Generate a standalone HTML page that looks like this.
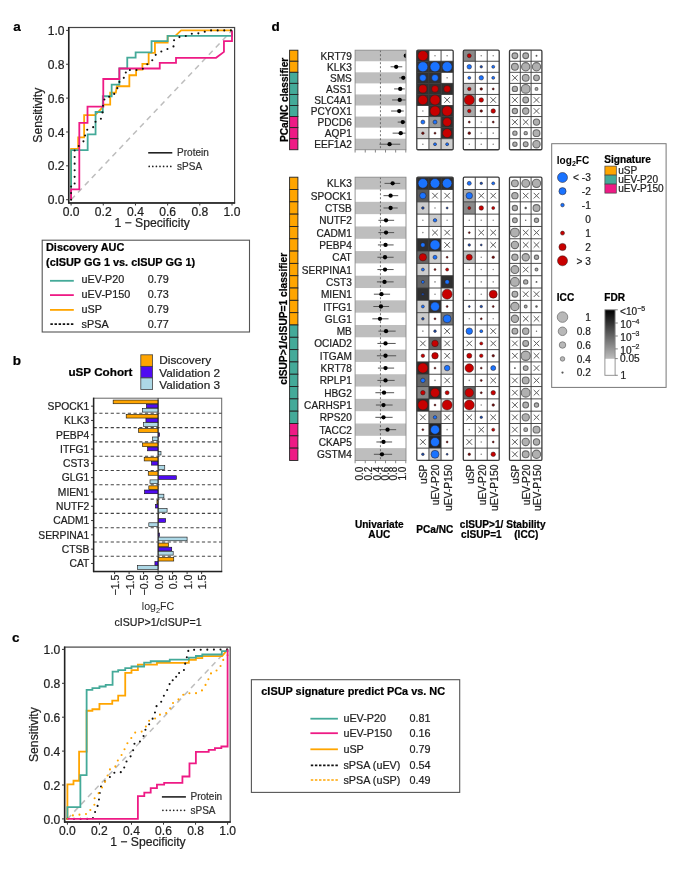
<!DOCTYPE html>
<html><head><meta charset="utf-8"><title>Figure</title><style>html,body{margin:0;padding:0;background:#fff;}svg{display:block;will-change:transform;filter:blur(0.3px);}</style></head><body>
<svg width="673" height="869" viewBox="0 0 673 869" font-family='"Liberation Sans", Arial, sans-serif'>
<rect x="0" y="0" width="673" height="869" fill="#fff" stroke="none" stroke-width="1"/>
<text x="13.3" y="30.7" font-size="13.5" font-weight="bold" fill="#000" stroke="#000" stroke-width="0.22">a</text>
<rect x="68.7" y="27.5" width="165.9" height="175.4" fill="none" stroke="#444" stroke-width="1.2"/>
<line x1="71.1" y1="199.7" x2="232" y2="30.4" stroke="#bdbdbd" stroke-width="1.5" stroke-dasharray="5.5 4.5"/>
<polyline points="71.1,199.7 71.1,148.91 78.18,148.91 78.18,137.4 84.13,137.4 84.13,115.05 95.07,115.05 103.28,106.58 103.28,104.55 110.2,104.55 110.2,92.53 115.83,92.53 116.8,86.27 129.35,86.27 129.35,75.26 136.1,75.26 136.1,69.51 142.38,69.51 142.38,63.92 148.65,63.92 148.65,52.92 154.93,52.92 154.93,42.59 167.64,42.59 167.64,35.82 175.36,35.82 181.16,30.4 232,30.4" fill="none" stroke="#FFA500" stroke-width="1.8" stroke-linejoin="miter"/>
<polyline points="71.1,199.7 71.1,150.1 87.67,150.1 87.67,134.35 95.56,134.35 95.56,112 102.8,112 102.8,96.26 111.65,96.26 111.65,84.58 119.37,84.58 119.37,68.49 127.25,68.49 127.25,57.66 135.62,57.66 135.62,52.41 151.55,52.41 151.55,41.07 167.64,41.07 167.64,35.82 232,35.82 232,30.4" fill="none" stroke="#44AA99" stroke-width="1.8" stroke-linejoin="miter"/>
<polyline points="71.1,199.7 71.1,189.37 79.31,189.37 79.31,122.84 87.51,122.84 87.51,106.58 103.28,106.58 103.28,78.99 119.37,78.99 119.37,68.49 159.76,68.49 159.76,62.91 176.01,62.91 176.01,57.83 216.07,57.83 223.95,51.9 223.95,41.07 232,41.07 232,30.4" fill="none" stroke="#EE1A85" stroke-width="1.8" stroke-linejoin="miter"/>
<polyline points="71.1,199.7 71.1,186.16 74.64,186.16 74.64,148.91 78.18,146.54 81.72,142.98 85.1,139.77 85.1,131.98 88.32,128.59 94.11,126.9 95.07,121.82 100.38,120.13 102.31,115.05 103.28,102.35 105.37,96.77 112.29,96.77 115.83,91.52 118.4,85.76 120.01,79.5 125.81,76.96 125.81,70.02 139.32,70.02 144.95,67.98 148.65,62.23 153.32,59.69 155.89,54.44 161.69,51.39 168.28,48.68 174.08,46.14 174.08,39.71 177.94,37.17 184.37,36.83 189.52,33.79 195.96,33.79 202.56,32.6 208.35,30.4 232,30.4" fill="none" stroke="#111" stroke-width="2.1" stroke-linejoin="miter" stroke-dasharray="0 6.6" stroke-linecap="round"/>
<line x1="68.7" y1="27" x2="68.7" y2="203.4" stroke="#222" stroke-width="1.5"/>
<line x1="68.2" y1="202.9" x2="235.1" y2="202.9" stroke="#222" stroke-width="1.5"/>
<line x1="66.1" y1="199.7" x2="68.7" y2="199.7" stroke="#333" stroke-width="1"/>
<text x="64.6" y="204.3" font-size="12.1" text-anchor="end" fill="#1e1e1e" stroke="#1e1e1e" stroke-width="0.22">0.0</text>
<line x1="71.1" y1="202.9" x2="71.1" y2="205.5" stroke="#333" stroke-width="1"/>
<text x="71.1" y="215.7" font-size="12.1" text-anchor="middle" fill="#1e1e1e" stroke="#1e1e1e" stroke-width="0.22">0.0</text>
<line x1="66.1" y1="165.84" x2="68.7" y2="165.84" stroke="#333" stroke-width="1"/>
<text x="64.6" y="170.44" font-size="12.1" text-anchor="end" fill="#1e1e1e" stroke="#1e1e1e" stroke-width="0.22">0.2</text>
<line x1="103.28" y1="202.9" x2="103.28" y2="205.5" stroke="#333" stroke-width="1"/>
<text x="103.28" y="215.7" font-size="12.1" text-anchor="middle" fill="#1e1e1e" stroke="#1e1e1e" stroke-width="0.22">0.2</text>
<line x1="66.1" y1="131.98" x2="68.7" y2="131.98" stroke="#333" stroke-width="1"/>
<text x="64.6" y="136.58" font-size="12.1" text-anchor="end" fill="#1e1e1e" stroke="#1e1e1e" stroke-width="0.22">0.4</text>
<line x1="135.46" y1="202.9" x2="135.46" y2="205.5" stroke="#333" stroke-width="1"/>
<text x="135.46" y="215.7" font-size="12.1" text-anchor="middle" fill="#1e1e1e" stroke="#1e1e1e" stroke-width="0.22">0.4</text>
<line x1="66.1" y1="98.12" x2="68.7" y2="98.12" stroke="#333" stroke-width="1"/>
<text x="64.6" y="102.72" font-size="12.1" text-anchor="end" fill="#1e1e1e" stroke="#1e1e1e" stroke-width="0.22">0.6</text>
<line x1="167.64" y1="202.9" x2="167.64" y2="205.5" stroke="#333" stroke-width="1"/>
<text x="167.64" y="215.7" font-size="12.1" text-anchor="middle" fill="#1e1e1e" stroke="#1e1e1e" stroke-width="0.22">0.6</text>
<line x1="66.1" y1="64.26" x2="68.7" y2="64.26" stroke="#333" stroke-width="1"/>
<text x="64.6" y="68.86" font-size="12.1" text-anchor="end" fill="#1e1e1e" stroke="#1e1e1e" stroke-width="0.22">0.8</text>
<line x1="199.82" y1="202.9" x2="199.82" y2="205.5" stroke="#333" stroke-width="1"/>
<text x="199.82" y="215.7" font-size="12.1" text-anchor="middle" fill="#1e1e1e" stroke="#1e1e1e" stroke-width="0.22">0.8</text>
<line x1="66.1" y1="30.4" x2="68.7" y2="30.4" stroke="#333" stroke-width="1"/>
<text x="64.6" y="35" font-size="12.1" text-anchor="end" fill="#1e1e1e" stroke="#1e1e1e" stroke-width="0.22">1.0</text>
<line x1="232" y1="202.9" x2="232" y2="205.5" stroke="#333" stroke-width="1"/>
<text x="232" y="215.7" font-size="12.1" text-anchor="middle" fill="#1e1e1e" stroke="#1e1e1e" stroke-width="0.22">1.0</text>
<text x="152.15" y="227" font-size="12.2" text-anchor="middle" fill="#1e1e1e" stroke="#1e1e1e" stroke-width="0.22">1 − Specificity</text>
<text transform="translate(42.2 115.2) rotate(-90)" font-size="12.2" text-anchor="middle" fill="#1e1e1e" stroke="#1e1e1e" stroke-width="0.22">Sensitivity</text>
<line x1="148.2" y1="152.8" x2="172.3" y2="152.8" stroke="#222" stroke-width="1.6"/>
<line x1="149.2" y1="166.4" x2="172.3" y2="166.4" stroke="#222" stroke-width="1.7" stroke-dasharray="0 3.6" stroke-linecap="round"/>
<text x="177.1" y="156.3" font-size="10" fill="#333" stroke="#333" stroke-width="0.22">Protein</text>
<text x="177.1" y="169.9" font-size="10" fill="#333" stroke="#333" stroke-width="0.22">sPSA</text>
<rect x="42.2" y="240.2" width="207.3" height="91.8" fill="#fff" stroke="#555" stroke-width="1.1"/>
<text x="46" y="251" font-size="10.9" font-weight="bold" fill="#000" stroke="#000" stroke-width="0.22">Discovery AUC</text>
<text x="46" y="266" font-size="10.9" font-weight="bold" fill="#000" stroke="#000" stroke-width="0.22">(cISUP GG 1 vs. cISUP GG 1)</text>
<line x1="50" y1="280.8" x2="73.8" y2="280.8" stroke="#44AA99" stroke-width="1.8"/>
<text x="81.6" y="283.1" font-size="10.8" fill="#1e1e1e" stroke="#1e1e1e" stroke-width="0.22">uEV-P20</text>
<text x="147.8" y="283.1" font-size="10.8" fill="#1e1e1e" stroke="#1e1e1e" stroke-width="0.22">0.79</text>
<line x1="50" y1="295.1" x2="73.8" y2="295.1" stroke="#EE1A85" stroke-width="1.8"/>
<text x="81.6" y="298" font-size="10.8" fill="#1e1e1e" stroke="#1e1e1e" stroke-width="0.22">uEV-P150</text>
<text x="147.8" y="298" font-size="10.8" fill="#1e1e1e" stroke="#1e1e1e" stroke-width="0.22">0.73</text>
<line x1="50" y1="309.9" x2="73.8" y2="309.9" stroke="#FFA500" stroke-width="1.8"/>
<text x="81.6" y="312.9" font-size="10.8" fill="#1e1e1e" stroke="#1e1e1e" stroke-width="0.22">uSP</text>
<text x="147.8" y="312.9" font-size="10.8" fill="#1e1e1e" stroke="#1e1e1e" stroke-width="0.22">0.79</text>
<line x1="50.4" y1="324.2" x2="74.2" y2="324.2" stroke="#111" stroke-width="1.7" stroke-dasharray="2.45 1.65"/>
<text x="81.6" y="327.7" font-size="10.8" fill="#1e1e1e" stroke="#1e1e1e" stroke-width="0.22">sPSA</text>
<text x="147.8" y="327.7" font-size="10.8" fill="#1e1e1e" stroke="#1e1e1e" stroke-width="0.22">0.77</text>
<text x="12.8" y="365" font-size="13.5" font-weight="bold" fill="#000" stroke="#000" stroke-width="0.22">b</text>
<text x="68.4" y="376.2" font-size="11.7" font-weight="bold" fill="#000" stroke="#000" stroke-width="0.22">uSP Cohort</text>
<rect x="140.8" y="354.8" width="11.8" height="11.57" fill="#FFA500" stroke="#444" stroke-width="0.8"/>
<text x="159.3" y="364.4" font-size="11.8" fill="#1e1e1e" stroke="#1e1e1e" stroke-width="0.22">Discovery</text>
<rect x="140.8" y="366.37" width="11.8" height="11.57" fill="#4F0BF2" stroke="#444" stroke-width="0.8"/>
<text x="159.3" y="377" font-size="11.8" fill="#1e1e1e" stroke="#1e1e1e" stroke-width="0.22">Validation 2</text>
<rect x="140.8" y="377.94" width="11.8" height="11.57" fill="#ADD8E6" stroke="#444" stroke-width="0.8"/>
<text x="159.3" y="389.4" font-size="11.8" fill="#1e1e1e" stroke="#1e1e1e" stroke-width="0.22">Validation 3</text>
<rect x="93.6" y="398.2" width="128.1" height="173.4" fill="none" stroke="#666" stroke-width="1"/>
<line x1="93.6" y1="413.3" x2="221.7" y2="413.3" stroke="#444" stroke-width="1.1" stroke-dasharray="3.2 2.5"/>
<line x1="93.6" y1="427.6" x2="221.7" y2="427.6" stroke="#444" stroke-width="1.1" stroke-dasharray="3.2 2.5"/>
<line x1="93.6" y1="441.9" x2="221.7" y2="441.9" stroke="#444" stroke-width="1.1" stroke-dasharray="3.2 2.5"/>
<line x1="93.6" y1="456.2" x2="221.7" y2="456.2" stroke="#444" stroke-width="1.1" stroke-dasharray="3.2 2.5"/>
<line x1="93.6" y1="470.5" x2="221.7" y2="470.5" stroke="#444" stroke-width="1.1" stroke-dasharray="3.2 2.5"/>
<line x1="93.6" y1="484.8" x2="221.7" y2="484.8" stroke="#444" stroke-width="1.1" stroke-dasharray="3.2 2.5"/>
<line x1="93.6" y1="499.1" x2="221.7" y2="499.1" stroke="#444" stroke-width="1.1" stroke-dasharray="3.2 2.5"/>
<line x1="93.6" y1="513.4" x2="221.7" y2="513.4" stroke="#444" stroke-width="1.1" stroke-dasharray="3.2 2.5"/>
<line x1="93.6" y1="527.7" x2="221.7" y2="527.7" stroke="#444" stroke-width="1.1" stroke-dasharray="3.2 2.5"/>
<line x1="93.6" y1="542" x2="221.7" y2="542" stroke="#444" stroke-width="1.1" stroke-dasharray="3.2 2.5"/>
<line x1="93.6" y1="556.3" x2="221.7" y2="556.3" stroke="#444" stroke-width="1.1" stroke-dasharray="3.2 2.5"/>
<rect x="113.15" y="400.05" width="44.95" height="3.7" fill="#FFA500" stroke="#111" stroke-width="0.6"/>
<rect x="146.5" y="404.22" width="11.6" height="3.7" fill="#4F0BF2" stroke="#111" stroke-width="0.6"/>
<rect x="142.44" y="408.39" width="15.66" height="3.7" fill="#ADD8E6" stroke="#111" stroke-width="0.6"/>
<line x1="91.1" y1="406.15" x2="93.6" y2="406.15" stroke="#333" stroke-width="1"/>
<text x="89.3" y="409.95" font-size="10.3" text-anchor="end" fill="#1e1e1e" stroke="#1e1e1e" stroke-width="0.22">SPOCK1</text>
<rect x="126.2" y="414.35" width="31.9" height="3.7" fill="#FFA500" stroke="#111" stroke-width="0.6"/>
<rect x="145.92" y="418.52" width="12.18" height="3.7" fill="#4F0BF2" stroke="#111" stroke-width="0.6"/>
<rect x="143.6" y="422.69" width="14.5" height="3.7" fill="#ADD8E6" stroke="#111" stroke-width="0.6"/>
<line x1="91.1" y1="420.45" x2="93.6" y2="420.45" stroke="#333" stroke-width="1"/>
<text x="89.3" y="424.25" font-size="10.3" text-anchor="end" fill="#1e1e1e" stroke="#1e1e1e" stroke-width="0.22">KLK3</text>
<rect x="138.38" y="428.65" width="19.72" height="3.7" fill="#FFA500" stroke="#111" stroke-width="0.6"/>
<rect x="158.1" y="432.82" width="1.45" height="3.7" fill="#4F0BF2" stroke="#111" stroke-width="0.6"/>
<rect x="152.59" y="436.99" width="5.51" height="3.7" fill="#ADD8E6" stroke="#111" stroke-width="0.6"/>
<line x1="91.1" y1="434.75" x2="93.6" y2="434.75" stroke="#333" stroke-width="1"/>
<text x="89.3" y="438.55" font-size="10.3" text-anchor="end" fill="#1e1e1e" stroke="#1e1e1e" stroke-width="0.22">PEBP4</text>
<rect x="142.44" y="442.95" width="15.66" height="3.7" fill="#FFA500" stroke="#111" stroke-width="0.6"/>
<rect x="147.66" y="447.12" width="10.44" height="3.7" fill="#4F0BF2" stroke="#111" stroke-width="0.6"/>
<rect x="158.1" y="451.29" width="2.9" height="3.7" fill="#ADD8E6" stroke="#111" stroke-width="0.6"/>
<line x1="91.1" y1="449.05" x2="93.6" y2="449.05" stroke="#333" stroke-width="1"/>
<text x="89.3" y="452.85" font-size="10.3" text-anchor="end" fill="#1e1e1e" stroke="#1e1e1e" stroke-width="0.22">ITFG1</text>
<rect x="144.18" y="457.25" width="13.92" height="3.7" fill="#FFA500" stroke="#111" stroke-width="0.6"/>
<rect x="151.43" y="461.42" width="6.67" height="3.7" fill="#4F0BF2" stroke="#111" stroke-width="0.6"/>
<rect x="158.1" y="465.59" width="6.67" height="3.7" fill="#ADD8E6" stroke="#111" stroke-width="0.6"/>
<line x1="91.1" y1="463.35" x2="93.6" y2="463.35" stroke="#333" stroke-width="1"/>
<text x="89.3" y="467.15" font-size="10.3" text-anchor="end" fill="#1e1e1e" stroke="#1e1e1e" stroke-width="0.22">CST3</text>
<rect x="148.24" y="471.55" width="9.86" height="3.7" fill="#FFA500" stroke="#111" stroke-width="0.6"/>
<rect x="158.1" y="475.72" width="18.27" height="3.7" fill="#4F0BF2" stroke="#111" stroke-width="0.6"/>
<rect x="149.98" y="479.89" width="8.12" height="3.7" fill="#ADD8E6" stroke="#111" stroke-width="0.6"/>
<line x1="91.1" y1="477.65" x2="93.6" y2="477.65" stroke="#333" stroke-width="1"/>
<text x="89.3" y="481.45" font-size="10.3" text-anchor="end" fill="#1e1e1e" stroke="#1e1e1e" stroke-width="0.22">GLG1</text>
<rect x="148.82" y="485.85" width="9.28" height="3.7" fill="#FFA500" stroke="#111" stroke-width="0.6"/>
<rect x="144.47" y="490.02" width="13.63" height="3.7" fill="#4F0BF2" stroke="#111" stroke-width="0.6"/>
<rect x="158.1" y="494.19" width="5.8" height="3.7" fill="#ADD8E6" stroke="#111" stroke-width="0.6"/>
<line x1="91.1" y1="491.95" x2="93.6" y2="491.95" stroke="#333" stroke-width="1"/>
<text x="89.3" y="495.75" font-size="10.3" text-anchor="end" fill="#1e1e1e" stroke="#1e1e1e" stroke-width="0.22">MIEN1</text>
<rect x="156.94" y="500.15" width="1.16" height="3.7" fill="#FFA500" stroke="#111" stroke-width="0.6"/>
<rect x="155.49" y="504.32" width="2.61" height="3.7" fill="#4F0BF2" stroke="#111" stroke-width="0.6"/>
<rect x="158.1" y="508.49" width="8.99" height="3.7" fill="#ADD8E6" stroke="#111" stroke-width="0.6"/>
<line x1="91.1" y1="506.25" x2="93.6" y2="506.25" stroke="#333" stroke-width="1"/>
<text x="89.3" y="510.05" font-size="10.3" text-anchor="end" fill="#1e1e1e" stroke="#1e1e1e" stroke-width="0.22">NUTF2</text>
<rect x="158.1" y="514.45" width="0.3" height="3.7" fill="#FFA500" stroke="#111" stroke-width="0.6"/>
<rect x="158.1" y="518.62" width="7.54" height="3.7" fill="#4F0BF2" stroke="#111" stroke-width="0.6"/>
<rect x="148.82" y="522.79" width="9.28" height="3.7" fill="#ADD8E6" stroke="#111" stroke-width="0.6"/>
<line x1="91.1" y1="520.55" x2="93.6" y2="520.55" stroke="#333" stroke-width="1"/>
<text x="89.3" y="524.35" font-size="10.3" text-anchor="end" fill="#1e1e1e" stroke="#1e1e1e" stroke-width="0.22">CADM1</text>
<rect x="158.1" y="528.75" width="0.3" height="3.7" fill="#FFA500" stroke="#111" stroke-width="0.6"/>
<rect x="158.1" y="532.92" width="1.45" height="3.7" fill="#4F0BF2" stroke="#111" stroke-width="0.6"/>
<rect x="158.1" y="537.09" width="29" height="3.7" fill="#ADD8E6" stroke="#111" stroke-width="0.6"/>
<line x1="91.1" y1="534.85" x2="93.6" y2="534.85" stroke="#333" stroke-width="1"/>
<text x="89.3" y="538.65" font-size="10.3" text-anchor="end" fill="#1e1e1e" stroke="#1e1e1e" stroke-width="0.22">SERPINA1</text>
<rect x="158.1" y="543.05" width="10.44" height="3.7" fill="#FFA500" stroke="#111" stroke-width="0.6"/>
<rect x="158.1" y="547.22" width="13.63" height="3.7" fill="#4F0BF2" stroke="#111" stroke-width="0.6"/>
<rect x="158.1" y="551.39" width="15.08" height="3.7" fill="#ADD8E6" stroke="#111" stroke-width="0.6"/>
<line x1="91.1" y1="549.15" x2="93.6" y2="549.15" stroke="#333" stroke-width="1"/>
<text x="89.3" y="552.95" font-size="10.3" text-anchor="end" fill="#1e1e1e" stroke="#1e1e1e" stroke-width="0.22">CTSB</text>
<rect x="158.1" y="557.35" width="15.66" height="3.7" fill="#FFA500" stroke="#111" stroke-width="0.6"/>
<rect x="154.91" y="561.52" width="3.19" height="3.7" fill="#4F0BF2" stroke="#111" stroke-width="0.6"/>
<rect x="137.51" y="565.69" width="20.59" height="3.7" fill="#ADD8E6" stroke="#111" stroke-width="0.6"/>
<line x1="91.1" y1="563.45" x2="93.6" y2="563.45" stroke="#333" stroke-width="1"/>
<text x="89.3" y="567.25" font-size="10.3" text-anchor="end" fill="#1e1e1e" stroke="#1e1e1e" stroke-width="0.22">CAT</text>
<line x1="158.1" y1="398.2" x2="158.1" y2="571.6" stroke="#222" stroke-width="0.9"/>
<line x1="93.6" y1="397.7" x2="93.6" y2="572.1" stroke="#222" stroke-width="1.5"/>
<line x1="93.1" y1="571.6" x2="222.2" y2="571.6" stroke="#222" stroke-width="1.5"/>
<line x1="114.6" y1="571.6" x2="114.6" y2="574.1" stroke="#333" stroke-width="1"/>
<text transform="translate(119.1 574.6) rotate(-90)" font-size="10.6" text-anchor="end" fill="#1e1e1e" stroke="#1e1e1e" stroke-width="0.22">−1.5</text>
<line x1="129.1" y1="571.6" x2="129.1" y2="574.1" stroke="#333" stroke-width="1"/>
<text transform="translate(133.6 574.6) rotate(-90)" font-size="10.6" text-anchor="end" fill="#1e1e1e" stroke="#1e1e1e" stroke-width="0.22">−1.0</text>
<line x1="143.6" y1="571.6" x2="143.6" y2="574.1" stroke="#333" stroke-width="1"/>
<text transform="translate(148.1 574.6) rotate(-90)" font-size="10.6" text-anchor="end" fill="#1e1e1e" stroke="#1e1e1e" stroke-width="0.22">−0.5</text>
<line x1="158.1" y1="571.6" x2="158.1" y2="574.1" stroke="#333" stroke-width="1"/>
<text transform="translate(162.6 574.6) rotate(-90)" font-size="10.6" text-anchor="end" fill="#1e1e1e" stroke="#1e1e1e" stroke-width="0.22">0.0</text>
<line x1="172.6" y1="571.6" x2="172.6" y2="574.1" stroke="#333" stroke-width="1"/>
<text transform="translate(177.1 574.6) rotate(-90)" font-size="10.6" text-anchor="end" fill="#1e1e1e" stroke="#1e1e1e" stroke-width="0.22">0.5</text>
<line x1="187.1" y1="571.6" x2="187.1" y2="574.1" stroke="#333" stroke-width="1"/>
<text transform="translate(191.6 574.6) rotate(-90)" font-size="10.6" text-anchor="end" fill="#1e1e1e" stroke="#1e1e1e" stroke-width="0.22">1.0</text>
<line x1="201.6" y1="571.6" x2="201.6" y2="574.1" stroke="#333" stroke-width="1"/>
<text transform="translate(206.1 574.6) rotate(-90)" font-size="10.6" text-anchor="end" fill="#1e1e1e" stroke="#1e1e1e" stroke-width="0.22">1.5</text>
<text x="158" y="610.2" font-size="10.6" text-anchor="middle" fill="#1e1e1e">log<tspan font-size="7.4" dy="2.4">2</tspan><tspan dy="-2.4">FC</tspan></text>
<text x="158" y="625.5" font-size="10.6" text-anchor="middle" fill="#1e1e1e" stroke="#1e1e1e" stroke-width="0.22">cISUP&gt;1/cISUP=1</text>
<text x="12" y="642.2" font-size="13.5" font-weight="bold" fill="#000" stroke="#000" stroke-width="0.22">c</text>
<rect x="64.6" y="647.1" width="165.6" height="175" fill="none" stroke="#444" stroke-width="1.2"/>
<line x1="67.4" y1="818.9" x2="227.6" y2="649.4" stroke="#bdbdbd" stroke-width="1.5" stroke-dasharray="5.5 4.5"/>
<polyline points="67.4,818.9 67.4,784.32 73.49,784.32 73.49,780.76 79.09,780.76 79.09,751.61 86.62,751.61 86.62,710.76 92.39,710.76 92.39,709.23 99.44,709.23 99.44,703.81 112.26,703.81 112.26,700.59 118.18,700.59 118.18,695.67 125.23,695.67 125.23,672.79 131.48,672.79 131.48,670.08 137.89,670.08 137.89,664.65 156.95,664.65 156.95,662.96 188.83,662.96 188.83,659.74 195.88,659.74 195.88,658.04 202.29,658.04 202.29,656.18 222.15,656.18 227.6,649.4" fill="none" stroke="#FFA500" stroke-width="1.8" stroke-linejoin="miter"/>
<polyline points="67.4,818.9 67.4,807.03 80.38,807.03 80.38,775.17 86.62,775.17 86.62,689.91 92.39,689.91 92.39,688.05 99.44,688.05 99.44,686.52 105.69,686.52 105.69,684.83 112.58,684.83 112.58,671.6 118.18,671.6 118.18,670.08 125.23,670.08 125.23,668.04 131.48,668.04 131.48,666.52 144.14,666.52 144.14,662.62 150.7,662.62 150.7,661.26 169.77,661.26 169.77,659.57 188.83,659.57 188.83,657.71 195.88,657.71 195.88,656.01 202.29,656.01 202.29,654.49 221.83,654.49 221.83,651.1 227.6,651.1 227.6,649.4" fill="none" stroke="#44AA99" stroke-width="1.8" stroke-linejoin="miter"/>
<polyline points="67.4,818.9 93.03,818.9 92.87,816.87 95.6,810.93 98.16,804.49 99.12,798.56 99.92,791.44 101.36,785 105.69,780.59 109.53,777.54 113.06,772.8 119.63,772.8 123.95,770.42 124.59,763.98 130.84,756.02 133.4,749.74 134.68,742.62 140.13,741.44 143.66,735.85 145.58,729.23 148.94,724.66 152.47,719.06 154.87,712.96 156.31,706.35 160.64,703.13 163.04,697.2 166.24,691.44 169.45,686.52 169.77,680.42 176.18,679.91 176.18,673.13 182.26,672.96 184.99,668.04 185.31,661.43 187.23,656.18 188.51,649.91 227.6,649.4" fill="none" stroke="#111" stroke-width="2.1" stroke-linejoin="miter" stroke-dasharray="0 6.6" stroke-linecap="round"/>
<polyline points="67.4,818.9 72.21,815.51 77.17,814.66 83.42,814.66 88.55,813.48 91.11,808.39 94.63,804.49 94.63,797.88 97.84,794.32 100.4,790.59 105.69,780.59 110.01,769.24 115.14,767.37 116.42,762.12 119.63,758.39 122.51,753.47 125.23,747.71 127.96,742.12 131.48,737.71 135.32,732.45 141.73,731.61 146.06,726.35 149.26,720.59 154.55,719.23 158.23,714.83 164.8,714.15 169.77,710.25 170.89,704.15 175.37,701.78 180.02,698.22 184.03,693.98 190.27,693.13 196.68,693.13 201.97,690.42 204.69,685.84 207.9,682.11 209.02,675.67 212.86,671.27 218.47,670.08 221.35,664.32 223.92,658.38 227.6,655.5 227.6,649.4" fill="none" stroke="#FFA500" stroke-width="2.1" stroke-linejoin="miter" stroke-dasharray="0 6.6" stroke-linecap="round"/>
<line x1="64.6" y1="646.6" x2="64.6" y2="822.6" stroke="#222" stroke-width="1.5"/>
<line x1="64.1" y1="822.1" x2="230.7" y2="822.1" stroke="#222" stroke-width="1.5"/>
<line x1="62" y1="818.9" x2="64.6" y2="818.9" stroke="#333" stroke-width="1"/>
<text x="60.3" y="823.5" font-size="12.1" text-anchor="end" fill="#1e1e1e" stroke="#1e1e1e" stroke-width="0.22">0.0</text>
<line x1="67.4" y1="822.1" x2="67.4" y2="824.7" stroke="#333" stroke-width="1"/>
<text x="67.4" y="835.3" font-size="12.1" text-anchor="middle" fill="#1e1e1e" stroke="#1e1e1e" stroke-width="0.22">0.0</text>
<line x1="62" y1="785" x2="64.6" y2="785" stroke="#333" stroke-width="1"/>
<text x="60.3" y="789.6" font-size="12.1" text-anchor="end" fill="#1e1e1e" stroke="#1e1e1e" stroke-width="0.22">0.2</text>
<line x1="99.44" y1="822.1" x2="99.44" y2="824.7" stroke="#333" stroke-width="1"/>
<text x="99.44" y="835.3" font-size="12.1" text-anchor="middle" fill="#1e1e1e" stroke="#1e1e1e" stroke-width="0.22">0.2</text>
<line x1="62" y1="751.1" x2="64.6" y2="751.1" stroke="#333" stroke-width="1"/>
<text x="60.3" y="755.7" font-size="12.1" text-anchor="end" fill="#1e1e1e" stroke="#1e1e1e" stroke-width="0.22">0.4</text>
<line x1="131.48" y1="822.1" x2="131.48" y2="824.7" stroke="#333" stroke-width="1"/>
<text x="131.48" y="835.3" font-size="12.1" text-anchor="middle" fill="#1e1e1e" stroke="#1e1e1e" stroke-width="0.22">0.4</text>
<line x1="62" y1="717.2" x2="64.6" y2="717.2" stroke="#333" stroke-width="1"/>
<text x="60.3" y="721.8" font-size="12.1" text-anchor="end" fill="#1e1e1e" stroke="#1e1e1e" stroke-width="0.22">0.6</text>
<line x1="163.52" y1="822.1" x2="163.52" y2="824.7" stroke="#333" stroke-width="1"/>
<text x="163.52" y="835.3" font-size="12.1" text-anchor="middle" fill="#1e1e1e" stroke="#1e1e1e" stroke-width="0.22">0.6</text>
<line x1="62" y1="683.3" x2="64.6" y2="683.3" stroke="#333" stroke-width="1"/>
<text x="60.3" y="687.9" font-size="12.1" text-anchor="end" fill="#1e1e1e" stroke="#1e1e1e" stroke-width="0.22">0.8</text>
<line x1="195.56" y1="822.1" x2="195.56" y2="824.7" stroke="#333" stroke-width="1"/>
<text x="195.56" y="835.3" font-size="12.1" text-anchor="middle" fill="#1e1e1e" stroke="#1e1e1e" stroke-width="0.22">0.8</text>
<line x1="62" y1="649.4" x2="64.6" y2="649.4" stroke="#333" stroke-width="1"/>
<text x="60.3" y="654" font-size="12.1" text-anchor="end" fill="#1e1e1e" stroke="#1e1e1e" stroke-width="0.22">1.0</text>
<line x1="227.6" y1="822.1" x2="227.6" y2="824.7" stroke="#333" stroke-width="1"/>
<text x="227.6" y="835.3" font-size="12.1" text-anchor="middle" fill="#1e1e1e" stroke="#1e1e1e" stroke-width="0.22">1.0</text>
<text x="147.9" y="846.2" font-size="12.2" text-anchor="middle" fill="#1e1e1e" stroke="#1e1e1e" stroke-width="0.22">1 − Specificity</text>
<text transform="translate(37.9 734.6) rotate(-90)" font-size="12.2" text-anchor="middle" fill="#1e1e1e" stroke="#1e1e1e" stroke-width="0.22">Sensitivity</text>
<line x1="161.9" y1="796.9" x2="185.9" y2="796.9" stroke="#222" stroke-width="1.6"/>
<line x1="162.9" y1="810.3" x2="185.9" y2="810.3" stroke="#222" stroke-width="1.7" stroke-dasharray="0 3.6" stroke-linecap="round"/>
<text x="190.5" y="800.4" font-size="10" fill="#333" stroke="#333" stroke-width="0.22">Protein</text>
<text x="190.5" y="813.8" font-size="10" fill="#333" stroke="#333" stroke-width="0.22">sPSA</text>
<polyline points="67.4,818.9 137.89,818.9 137.89,796.19 144.3,796.19 144.3,792.63 150.7,792.63 150.7,788.05 156.95,788.05 156.95,784.66 164.16,784.66 164.16,782.8 182.42,782.8 182.42,776.52 189.47,776.52 189.47,763.47 195.88,763.47 195.88,751.78 208.7,751.78 208.7,749.91 214.94,749.91 214.94,748.22 221.35,748.22 221.35,746.52 227.6,746.52 227.6,649.4" fill="none" stroke="#EE1A85" stroke-width="1.8" stroke-linejoin="miter"/>
<rect x="251.4" y="679.7" width="208.3" height="112.7" fill="#fff" stroke="#555" stroke-width="1.1"/>
<text x="261.3" y="694.8" font-size="10.9" font-weight="bold" fill="#000" stroke="#000" stroke-width="0.22">cISUP signature predict PCa vs. NC</text>
<line x1="310.4" y1="718.7" x2="337.9" y2="718.7" stroke="#44AA99" stroke-width="1.8"/>
<text x="343.4" y="722.3" font-size="10.8" fill="#1e1e1e" stroke="#1e1e1e" stroke-width="0.22">uEV-P20</text>
<text x="409.6" y="722.3" font-size="10.8" fill="#1e1e1e" stroke="#1e1e1e" stroke-width="0.22">0.81</text>
<line x1="310.4" y1="733.2" x2="337.9" y2="733.2" stroke="#EE1A85" stroke-width="1.8"/>
<text x="343.4" y="736.8" font-size="10.8" fill="#1e1e1e" stroke="#1e1e1e" stroke-width="0.22">uEV-P150</text>
<text x="409.6" y="736.8" font-size="10.8" fill="#1e1e1e" stroke="#1e1e1e" stroke-width="0.22">0.16</text>
<line x1="310.4" y1="749.3" x2="337.9" y2="749.3" stroke="#FFA500" stroke-width="1.8"/>
<text x="343.4" y="752.9" font-size="10.8" fill="#1e1e1e" stroke="#1e1e1e" stroke-width="0.22">uSP</text>
<text x="409.6" y="752.9" font-size="10.8" fill="#1e1e1e" stroke="#1e1e1e" stroke-width="0.22">0.79</text>
<line x1="310.8" y1="765.4" x2="338.3" y2="765.4" stroke="#111" stroke-width="1.7" stroke-dasharray="2.45 1.65"/>
<text x="343.4" y="769" font-size="10.8" fill="#1e1e1e" stroke="#1e1e1e" stroke-width="0.22">sPSA (uEV)</text>
<text x="409.6" y="769" font-size="10.8" fill="#1e1e1e" stroke="#1e1e1e" stroke-width="0.22">0.54</text>
<line x1="310.8" y1="780" x2="338.3" y2="780" stroke="#FFA500" stroke-width="1.7" stroke-dasharray="2.45 1.65"/>
<text x="343.4" y="783.6" font-size="10.8" fill="#1e1e1e" stroke="#1e1e1e" stroke-width="0.22">sPSA (uSP)</text>
<text x="409.6" y="783.6" font-size="10.8" fill="#1e1e1e" stroke="#1e1e1e" stroke-width="0.22">0.49</text>
<text x="271.5" y="31" font-size="13.5" font-weight="bold" fill="#000" stroke="#000" stroke-width="0.22">d</text>
<rect x="289.6" y="50.2" width="8.3" height="11.06" fill="#FFA500" stroke="#222" stroke-width="0.9"/>
<rect x="289.6" y="61.26" width="8.3" height="11.06" fill="#FFA500" stroke="#222" stroke-width="0.9"/>
<rect x="289.6" y="72.32" width="8.3" height="11.06" fill="#44AA99" stroke="#222" stroke-width="0.9"/>
<rect x="289.6" y="83.38" width="8.3" height="11.06" fill="#44AA99" stroke="#222" stroke-width="0.9"/>
<rect x="289.6" y="94.44" width="8.3" height="11.06" fill="#44AA99" stroke="#222" stroke-width="0.9"/>
<rect x="289.6" y="105.5" width="8.3" height="11.06" fill="#44AA99" stroke="#222" stroke-width="0.9"/>
<rect x="289.6" y="116.56" width="8.3" height="11.06" fill="#EE1A85" stroke="#222" stroke-width="0.9"/>
<rect x="289.6" y="127.62" width="8.3" height="11.06" fill="#EE1A85" stroke="#222" stroke-width="0.9"/>
<rect x="289.6" y="138.68" width="8.3" height="11.06" fill="#EE1A85" stroke="#222" stroke-width="0.9"/>
<text x="351.8" y="59.73" font-size="10.1" text-anchor="end" fill="#1e1e1e" stroke="#1e1e1e" stroke-width="0.22">KRT79</text>
<text x="351.8" y="70.79" font-size="10.1" text-anchor="end" fill="#1e1e1e" stroke="#1e1e1e" stroke-width="0.22">KLK3</text>
<text x="351.8" y="81.85" font-size="10.1" text-anchor="end" fill="#1e1e1e" stroke="#1e1e1e" stroke-width="0.22">SMS</text>
<text x="351.8" y="92.91" font-size="10.1" text-anchor="end" fill="#1e1e1e" stroke="#1e1e1e" stroke-width="0.22">ASS1</text>
<text x="351.8" y="103.97" font-size="10.1" text-anchor="end" fill="#1e1e1e" stroke="#1e1e1e" stroke-width="0.22">SLC4A1</text>
<text x="351.8" y="115.03" font-size="10.1" text-anchor="end" fill="#1e1e1e" stroke="#1e1e1e" stroke-width="0.22">PCYOX1</text>
<text x="351.8" y="126.09" font-size="10.1" text-anchor="end" fill="#1e1e1e" stroke="#1e1e1e" stroke-width="0.22">PDCD6</text>
<text x="351.8" y="137.15" font-size="10.1" text-anchor="end" fill="#1e1e1e" stroke="#1e1e1e" stroke-width="0.22">AQP1</text>
<text x="351.8" y="148.21" font-size="10.1" text-anchor="end" fill="#1e1e1e" stroke="#1e1e1e" stroke-width="0.22">EEF1A2</text>
<rect x="355.1" y="50.2" width="50.9" height="11.06" fill="#bebebe" stroke="none" stroke-width="1"/>
<rect x="355.1" y="72.32" width="50.9" height="11.06" fill="#bebebe" stroke="none" stroke-width="1"/>
<rect x="355.1" y="94.44" width="50.9" height="11.06" fill="#bebebe" stroke="none" stroke-width="1"/>
<rect x="355.1" y="116.56" width="50.9" height="11.06" fill="#bebebe" stroke="none" stroke-width="1"/>
<rect x="355.1" y="138.68" width="50.9" height="11.06" fill="#bebebe" stroke="none" stroke-width="1"/>
<line x1="380.45" y1="50.2" x2="380.45" y2="149.74" stroke="#555" stroke-width="0.8" stroke-dasharray="2 2"/>
<clipPath id="clip50"><rect x="355.1" y="50.2" width="50.9" height="99.54"/></clipPath><g clip-path="url(#clip50)">
<line x1="405.8" y1="55.73" x2="405.8" y2="55.73" stroke="#555" stroke-width="1"/>
<circle cx="405.8" cy="55.73" r="2.15" fill="#000" stroke="none" stroke-width="0.6"/>
<line x1="390.59" y1="66.79" x2="402.25" y2="66.79" stroke="#555" stroke-width="1"/>
<circle cx="396.17" cy="66.79" r="2.15" fill="#000" stroke="none" stroke-width="0.6"/>
<line x1="399.21" y1="77.85" x2="405.8" y2="77.85" stroke="#555" stroke-width="1"/>
<circle cx="403.27" cy="77.85" r="2.15" fill="#000" stroke="none" stroke-width="0.6"/>
<line x1="394.14" y1="88.91" x2="404.79" y2="88.91" stroke="#555" stroke-width="1"/>
<circle cx="400.22" cy="88.91" r="2.15" fill="#000" stroke="none" stroke-width="0.6"/>
<line x1="392.11" y1="99.97" x2="405.8" y2="99.97" stroke="#555" stroke-width="1"/>
<circle cx="399.72" cy="99.97" r="2.15" fill="#000" stroke="none" stroke-width="0.6"/>
<line x1="391.1" y1="111.03" x2="403.77" y2="111.03" stroke="#555" stroke-width="1"/>
<circle cx="399.21" cy="111.03" r="2.15" fill="#000" stroke="none" stroke-width="0.6"/>
<line x1="397.69" y1="122.09" x2="405.8" y2="122.09" stroke="#555" stroke-width="1"/>
<circle cx="402.76" cy="122.09" r="2.15" fill="#000" stroke="none" stroke-width="0.6"/>
<line x1="392.62" y1="133.15" x2="405.8" y2="133.15" stroke="#555" stroke-width="1"/>
<circle cx="400.73" cy="133.15" r="2.15" fill="#000" stroke="none" stroke-width="0.6"/>
<line x1="379.44" y1="144.21" x2="400.22" y2="144.21" stroke="#555" stroke-width="1"/>
<circle cx="389.58" cy="144.21" r="2.15" fill="#000" stroke="none" stroke-width="0.6"/>
</g>
<rect x="355.1" y="50.2" width="50.9" height="99.54" fill="none" stroke="#8a8a8a" stroke-width="0.9"/>
<line x1="355.1" y1="149.74" x2="355.1" y2="152.54" stroke="#777" stroke-width="0.9"/>
<line x1="365.24" y1="149.74" x2="365.24" y2="152.54" stroke="#777" stroke-width="0.9"/>
<line x1="375.38" y1="149.74" x2="375.38" y2="152.54" stroke="#777" stroke-width="0.9"/>
<line x1="385.52" y1="149.74" x2="385.52" y2="152.54" stroke="#777" stroke-width="0.9"/>
<line x1="395.66" y1="149.74" x2="395.66" y2="152.54" stroke="#777" stroke-width="0.9"/>
<line x1="405.8" y1="149.74" x2="405.8" y2="152.54" stroke="#777" stroke-width="0.9"/>
<rect x="416.8" y="50.2" width="12.13" height="11.06" fill="#303030" stroke="none" stroke-width="1"/>
<rect x="416.8" y="61.26" width="12.13" height="11.06" fill="#303030" stroke="none" stroke-width="1"/>
<rect x="428.93" y="61.26" width="12.13" height="11.06" fill="#303030" stroke="none" stroke-width="1"/>
<rect x="441.07" y="61.26" width="12.13" height="11.06" fill="#303030" stroke="none" stroke-width="1"/>
<rect x="416.8" y="72.32" width="12.13" height="11.06" fill="#303030" stroke="none" stroke-width="1"/>
<rect x="428.93" y="72.32" width="12.13" height="11.06" fill="#303030" stroke="none" stroke-width="1"/>
<rect x="416.8" y="83.38" width="12.13" height="11.06" fill="#303030" stroke="none" stroke-width="1"/>
<rect x="428.93" y="83.38" width="12.13" height="11.06" fill="#303030" stroke="none" stroke-width="1"/>
<rect x="441.07" y="83.38" width="12.13" height="11.06" fill="#303030" stroke="none" stroke-width="1"/>
<rect x="416.8" y="94.44" width="12.13" height="11.06" fill="#303030" stroke="none" stroke-width="1"/>
<rect x="428.93" y="94.44" width="12.13" height="11.06" fill="#303030" stroke="none" stroke-width="1"/>
<rect x="428.93" y="105.5" width="12.13" height="11.06" fill="#303030" stroke="none" stroke-width="1"/>
<rect x="441.07" y="105.5" width="12.13" height="11.06" fill="#303030" stroke="none" stroke-width="1"/>
<rect x="428.93" y="116.56" width="12.13" height="11.06" fill="#999" stroke="none" stroke-width="1"/>
<rect x="441.07" y="116.56" width="12.13" height="11.06" fill="#303030" stroke="none" stroke-width="1"/>
<rect x="416.8" y="127.62" width="12.13" height="11.06" fill="#cfcfcf" stroke="none" stroke-width="1"/>
<rect x="441.07" y="127.62" width="12.13" height="11.06" fill="#303030" stroke="none" stroke-width="1"/>
<rect x="428.93" y="138.68" width="12.13" height="11.06" fill="#cfcfcf" stroke="none" stroke-width="1"/>
<rect x="441.07" y="138.68" width="12.13" height="11.06" fill="#cfcfcf" stroke="none" stroke-width="1"/>
<line x1="428.93" y1="50.2" x2="428.93" y2="149.74" stroke="#383838" stroke-width="0.9"/>
<line x1="441.07" y1="50.2" x2="441.07" y2="149.74" stroke="#383838" stroke-width="0.9"/>
<line x1="416.8" y1="61.26" x2="453.2" y2="61.26" stroke="#383838" stroke-width="0.9"/>
<line x1="416.8" y1="72.32" x2="453.2" y2="72.32" stroke="#383838" stroke-width="0.9"/>
<line x1="416.8" y1="83.38" x2="453.2" y2="83.38" stroke="#383838" stroke-width="0.9"/>
<line x1="416.8" y1="94.44" x2="453.2" y2="94.44" stroke="#383838" stroke-width="0.9"/>
<line x1="416.8" y1="105.5" x2="453.2" y2="105.5" stroke="#383838" stroke-width="0.9"/>
<line x1="416.8" y1="116.56" x2="453.2" y2="116.56" stroke="#383838" stroke-width="0.9"/>
<line x1="416.8" y1="127.62" x2="453.2" y2="127.62" stroke="#383838" stroke-width="0.9"/>
<line x1="416.8" y1="138.68" x2="453.2" y2="138.68" stroke="#383838" stroke-width="0.9"/>
<circle cx="422.87" cy="55.73" r="5" fill="#C80000" stroke="#2a1a1a" stroke-width="0.5"/>
<circle cx="435" cy="55.73" r="0.8" fill="#8a8a8a" stroke="none" stroke-width="0.6"/>
<circle cx="447.13" cy="55.73" r="0.8" fill="#8a8a8a" stroke="none" stroke-width="0.6"/>
<circle cx="422.87" cy="66.79" r="5" fill="#1A73FF" stroke="#2a1a1a" stroke-width="0.5"/>
<circle cx="435" cy="66.79" r="5" fill="#1A73FF" stroke="#2a1a1a" stroke-width="0.5"/>
<circle cx="447.13" cy="66.79" r="5" fill="#1A73FF" stroke="#2a1a1a" stroke-width="0.5"/>
<circle cx="422.87" cy="77.85" r="3.4" fill="#1A73FF" stroke="#2a1a1a" stroke-width="0.5"/>
<circle cx="435" cy="77.85" r="3.4" fill="#1A73FF" stroke="#2a1a1a" stroke-width="0.5"/>
<circle cx="447.13" cy="77.85" r="0.8" fill="#8a8a8a" stroke="none" stroke-width="0.6"/>
<circle cx="422.87" cy="88.91" r="4.1" fill="#C80000" stroke="#2a1a1a" stroke-width="0.5"/>
<circle cx="435" cy="88.91" r="3.4" fill="#C80000" stroke="#2a1a1a" stroke-width="0.5"/>
<circle cx="447.13" cy="88.91" r="3.4" fill="#C80000" stroke="#2a1a1a" stroke-width="0.5"/>
<circle cx="422.87" cy="99.97" r="4.75" fill="#C80000" stroke="#2a1a1a" stroke-width="0.5"/>
<circle cx="435" cy="99.97" r="5" fill="#C80000" stroke="#2a1a1a" stroke-width="0.5"/>
<line x1="444.33" y1="97.17" x2="449.93" y2="102.77" stroke="#5e5e5e" stroke-width="1"/>
<line x1="444.33" y1="102.77" x2="449.93" y2="97.17" stroke="#5e5e5e" stroke-width="1"/>
<circle cx="422.87" cy="111.03" r="0.8" fill="#8a8a8a" stroke="none" stroke-width="0.6"/>
<circle cx="435" cy="111.03" r="5" fill="#C80000" stroke="#2a1a1a" stroke-width="0.5"/>
<circle cx="447.13" cy="111.03" r="5" fill="#C80000" stroke="#2a1a1a" stroke-width="0.5"/>
<circle cx="422.87" cy="122.09" r="2" fill="#1A73FF" stroke="#2a1a1a" stroke-width="0.5"/>
<circle cx="435" cy="122.09" r="2" fill="#1A73FF" stroke="#2a1a1a" stroke-width="0.5"/>
<circle cx="447.13" cy="122.09" r="4.25" fill="#C80000" stroke="#2a1a1a" stroke-width="0.5"/>
<circle cx="422.87" cy="133.15" r="1.25" fill="#7a0a0a" stroke="#2a1a1a" stroke-width="0.5"/>
<circle cx="435" cy="133.15" r="1" fill="#7a0a0a" stroke="#2a1a1a" stroke-width="0.5"/>
<circle cx="447.13" cy="133.15" r="4.5" fill="#C80000" stroke="#2a1a1a" stroke-width="0.5"/>
<circle cx="422.87" cy="144.21" r="0.8" fill="#8a8a8a" stroke="none" stroke-width="0.6"/>
<circle cx="435" cy="144.21" r="1.5" fill="#1A73FF" stroke="#2a1a1a" stroke-width="0.5"/>
<circle cx="447.13" cy="144.21" r="1.5" fill="#1A73FF" stroke="#2a1a1a" stroke-width="0.5"/>
<rect x="416.8" y="50.2" width="36.4" height="99.54" fill="none" stroke="#3a3a3a" stroke-width="1.3" rx="1.2"/>
<rect x="463.3" y="50.2" width="11.97" height="11.06" fill="#8a8a8a" stroke="none" stroke-width="1"/>
<rect x="463.3" y="83.38" width="11.97" height="11.06" fill="#bdbdbd" stroke="none" stroke-width="1"/>
<rect x="463.3" y="94.44" width="11.97" height="11.06" fill="#9a9a9a" stroke="none" stroke-width="1"/>
<rect x="463.3" y="105.5" width="11.97" height="11.06" fill="#ababab" stroke="none" stroke-width="1"/>
<line x1="475.27" y1="50.2" x2="475.27" y2="149.74" stroke="#383838" stroke-width="0.9"/>
<line x1="487.23" y1="50.2" x2="487.23" y2="149.74" stroke="#383838" stroke-width="0.9"/>
<line x1="463.3" y1="61.26" x2="499.2" y2="61.26" stroke="#383838" stroke-width="0.9"/>
<line x1="463.3" y1="72.32" x2="499.2" y2="72.32" stroke="#383838" stroke-width="0.9"/>
<line x1="463.3" y1="83.38" x2="499.2" y2="83.38" stroke="#383838" stroke-width="0.9"/>
<line x1="463.3" y1="94.44" x2="499.2" y2="94.44" stroke="#383838" stroke-width="0.9"/>
<line x1="463.3" y1="105.5" x2="499.2" y2="105.5" stroke="#383838" stroke-width="0.9"/>
<line x1="463.3" y1="116.56" x2="499.2" y2="116.56" stroke="#383838" stroke-width="0.9"/>
<line x1="463.3" y1="127.62" x2="499.2" y2="127.62" stroke="#383838" stroke-width="0.9"/>
<line x1="463.3" y1="138.68" x2="499.2" y2="138.68" stroke="#383838" stroke-width="0.9"/>
<circle cx="469.28" cy="55.73" r="2" fill="#C80000" stroke="#2a1a1a" stroke-width="0.5"/>
<circle cx="481.25" cy="55.73" r="0.8" fill="#8a8a8a" stroke="none" stroke-width="0.6"/>
<circle cx="493.22" cy="55.73" r="0.8" fill="#8a8a8a" stroke="none" stroke-width="0.6"/>
<circle cx="469.28" cy="66.79" r="2.25" fill="#1A73FF" stroke="#2a1a1a" stroke-width="0.5"/>
<circle cx="481.25" cy="66.79" r="1.25" fill="#1a4fb0" stroke="#2a1a1a" stroke-width="0.5"/>
<circle cx="493.22" cy="66.79" r="1.5" fill="#1A73FF" stroke="#2a1a1a" stroke-width="0.5"/>
<circle cx="469.28" cy="77.85" r="1.5" fill="#1A73FF" stroke="#2a1a1a" stroke-width="0.5"/>
<circle cx="481.25" cy="77.85" r="2.25" fill="#1A73FF" stroke="#2a1a1a" stroke-width="0.5"/>
<circle cx="493.22" cy="77.85" r="1.5" fill="#1A73FF" stroke="#2a1a1a" stroke-width="0.5"/>
<circle cx="469.28" cy="88.91" r="1.75" fill="#C80000" stroke="#2a1a1a" stroke-width="0.5"/>
<circle cx="481.25" cy="88.91" r="1.25" fill="#7a0a0a" stroke="#2a1a1a" stroke-width="0.5"/>
<circle cx="493.22" cy="88.91" r="1" fill="#7a0a0a" stroke="#2a1a1a" stroke-width="0.5"/>
<circle cx="469.28" cy="99.97" r="5" fill="#C80000" stroke="#2a1a1a" stroke-width="0.5"/>
<circle cx="481.25" cy="99.97" r="2.25" fill="#C80000" stroke="#2a1a1a" stroke-width="0.5"/>
<line x1="490.42" y1="97.17" x2="496.02" y2="102.77" stroke="#5e5e5e" stroke-width="1"/>
<line x1="490.42" y1="102.77" x2="496.02" y2="97.17" stroke="#5e5e5e" stroke-width="1"/>
<circle cx="469.28" cy="111.03" r="1.75" fill="#C80000" stroke="#2a1a1a" stroke-width="0.5"/>
<circle cx="481.25" cy="111.03" r="1.25" fill="#7a0a0a" stroke="#2a1a1a" stroke-width="0.5"/>
<circle cx="493.22" cy="111.03" r="2.25" fill="#C80000" stroke="#2a1a1a" stroke-width="0.5"/>
<circle cx="469.28" cy="122.09" r="1" fill="#7a0a0a" stroke="#2a1a1a" stroke-width="0.5"/>
<circle cx="481.25" cy="122.09" r="0.8" fill="#8a8a8a" stroke="none" stroke-width="0.6"/>
<circle cx="493.22" cy="122.09" r="1" fill="#7a0a0a" stroke="#2a1a1a" stroke-width="0.5"/>
<circle cx="469.28" cy="133.15" r="1.3" fill="#7a0a0a" stroke="#2a1a1a" stroke-width="0.5"/>
<circle cx="481.25" cy="133.15" r="0.8" fill="#8a8a8a" stroke="none" stroke-width="0.6"/>
<circle cx="493.22" cy="133.15" r="0.8" fill="#8a8a8a" stroke="none" stroke-width="0.6"/>
<circle cx="469.28" cy="144.21" r="0.8" fill="#8a8a8a" stroke="none" stroke-width="0.6"/>
<circle cx="481.25" cy="144.21" r="0.8" fill="#8a8a8a" stroke="none" stroke-width="0.6"/>
<circle cx="493.22" cy="144.21" r="0.8" fill="#8a8a8a" stroke="none" stroke-width="0.6"/>
<rect x="463.3" y="50.2" width="35.9" height="99.54" fill="none" stroke="#3a3a3a" stroke-width="1.3" rx="1.2"/>
<line x1="520.3" y1="50.2" x2="520.3" y2="149.74" stroke="#383838" stroke-width="0.9"/>
<line x1="531.1" y1="50.2" x2="531.1" y2="149.74" stroke="#383838" stroke-width="0.9"/>
<line x1="509.5" y1="61.26" x2="541.9" y2="61.26" stroke="#383838" stroke-width="0.9"/>
<line x1="509.5" y1="72.32" x2="541.9" y2="72.32" stroke="#383838" stroke-width="0.9"/>
<line x1="509.5" y1="83.38" x2="541.9" y2="83.38" stroke="#383838" stroke-width="0.9"/>
<line x1="509.5" y1="94.44" x2="541.9" y2="94.44" stroke="#383838" stroke-width="0.9"/>
<line x1="509.5" y1="105.5" x2="541.9" y2="105.5" stroke="#383838" stroke-width="0.9"/>
<line x1="509.5" y1="116.56" x2="541.9" y2="116.56" stroke="#383838" stroke-width="0.9"/>
<line x1="509.5" y1="127.62" x2="541.9" y2="127.62" stroke="#383838" stroke-width="0.9"/>
<line x1="509.5" y1="138.68" x2="541.9" y2="138.68" stroke="#383838" stroke-width="0.9"/>
<circle cx="514.9" cy="55.73" r="2.9" fill="#b0b0b0" stroke="#6a6a6a" stroke-width="1.1"/>
<circle cx="525.7" cy="55.73" r="2.9" fill="#b0b0b0" stroke="#6a6a6a" stroke-width="1.1"/>
<circle cx="536.5" cy="55.73" r="0.95" fill="#555" stroke="none" stroke-width="0.6"/>
<circle cx="514.9" cy="66.79" r="3.4" fill="#b0b0b0" stroke="#6a6a6a" stroke-width="1.1"/>
<circle cx="525.7" cy="66.79" r="4.15" fill="#b0b0b0" stroke="#6a6a6a" stroke-width="1.1"/>
<circle cx="536.5" cy="66.79" r="4.15" fill="#b0b0b0" stroke="#6a6a6a" stroke-width="1.1"/>
<line x1="512.1" y1="75.05" x2="517.7" y2="80.65" stroke="#5e5e5e" stroke-width="1"/>
<line x1="512.1" y1="80.65" x2="517.7" y2="75.05" stroke="#5e5e5e" stroke-width="1"/>
<circle cx="525.7" cy="77.85" r="3.4" fill="#b0b0b0" stroke="#6a6a6a" stroke-width="1.1"/>
<circle cx="536.5" cy="77.85" r="2.9" fill="#b0b0b0" stroke="#6a6a6a" stroke-width="1.1"/>
<circle cx="514.9" cy="88.91" r="2.65" fill="#b0b0b0" stroke="#6a6a6a" stroke-width="1.1"/>
<circle cx="525.7" cy="88.91" r="4.4" fill="#b0b0b0" stroke="#6a6a6a" stroke-width="1.1"/>
<circle cx="536.5" cy="88.91" r="1.4" fill="#b0b0b0" stroke="#6a6a6a" stroke-width="1.1"/>
<line x1="512.1" y1="97.17" x2="517.7" y2="102.77" stroke="#5e5e5e" stroke-width="1"/>
<line x1="512.1" y1="102.77" x2="517.7" y2="97.17" stroke="#5e5e5e" stroke-width="1"/>
<circle cx="525.7" cy="99.97" r="2.9" fill="#b0b0b0" stroke="#6a6a6a" stroke-width="1.1"/>
<line x1="533.7" y1="97.17" x2="539.3" y2="102.77" stroke="#5e5e5e" stroke-width="1"/>
<line x1="533.7" y1="102.77" x2="539.3" y2="97.17" stroke="#5e5e5e" stroke-width="1"/>
<circle cx="514.9" cy="111.03" r="2.65" fill="#b0b0b0" stroke="#6a6a6a" stroke-width="1.1"/>
<circle cx="525.7" cy="111.03" r="3.15" fill="#b0b0b0" stroke="#6a6a6a" stroke-width="1.1"/>
<line x1="533.7" y1="108.23" x2="539.3" y2="113.83" stroke="#5e5e5e" stroke-width="1"/>
<line x1="533.7" y1="113.83" x2="539.3" y2="108.23" stroke="#5e5e5e" stroke-width="1"/>
<line x1="512.1" y1="119.29" x2="517.7" y2="124.89" stroke="#5e5e5e" stroke-width="1"/>
<line x1="512.1" y1="124.89" x2="517.7" y2="119.29" stroke="#5e5e5e" stroke-width="1"/>
<line x1="522.9" y1="119.29" x2="528.5" y2="124.89" stroke="#5e5e5e" stroke-width="1"/>
<line x1="522.9" y1="124.89" x2="528.5" y2="119.29" stroke="#5e5e5e" stroke-width="1"/>
<circle cx="536.5" cy="122.09" r="3.15" fill="#b0b0b0" stroke="#6a6a6a" stroke-width="1.1"/>
<circle cx="514.9" cy="133.15" r="2.15" fill="#b0b0b0" stroke="#6a6a6a" stroke-width="1.1"/>
<circle cx="525.7" cy="133.15" r="1.65" fill="#b0b0b0" stroke="#6a6a6a" stroke-width="1.1"/>
<circle cx="536.5" cy="133.15" r="3.4" fill="#b0b0b0" stroke="#6a6a6a" stroke-width="1.1"/>
<circle cx="514.9" cy="144.21" r="2.15" fill="#b0b0b0" stroke="#6a6a6a" stroke-width="1.1"/>
<circle cx="525.7" cy="144.21" r="2.4" fill="#b0b0b0" stroke="#6a6a6a" stroke-width="1.1"/>
<circle cx="536.5" cy="144.21" r="3.65" fill="#b0b0b0" stroke="#6a6a6a" stroke-width="1.1"/>
<rect x="509.5" y="50.2" width="32.4" height="99.54" fill="none" stroke="#3a3a3a" stroke-width="1.3" rx="1.2"/>
<rect x="289.6" y="177.2" width="8.3" height="12.31" fill="#FFA500" stroke="#222" stroke-width="0.9"/>
<rect x="289.6" y="189.51" width="8.3" height="12.31" fill="#FFA500" stroke="#222" stroke-width="0.9"/>
<rect x="289.6" y="201.83" width="8.3" height="12.31" fill="#FFA500" stroke="#222" stroke-width="0.9"/>
<rect x="289.6" y="214.14" width="8.3" height="12.31" fill="#FFA500" stroke="#222" stroke-width="0.9"/>
<rect x="289.6" y="226.46" width="8.3" height="12.31" fill="#FFA500" stroke="#222" stroke-width="0.9"/>
<rect x="289.6" y="238.77" width="8.3" height="12.31" fill="#FFA500" stroke="#222" stroke-width="0.9"/>
<rect x="289.6" y="251.09" width="8.3" height="12.31" fill="#FFA500" stroke="#222" stroke-width="0.9"/>
<rect x="289.6" y="263.4" width="8.3" height="12.31" fill="#FFA500" stroke="#222" stroke-width="0.9"/>
<rect x="289.6" y="275.72" width="8.3" height="12.31" fill="#FFA500" stroke="#222" stroke-width="0.9"/>
<rect x="289.6" y="288.03" width="8.3" height="12.31" fill="#FFA500" stroke="#222" stroke-width="0.9"/>
<rect x="289.6" y="300.35" width="8.3" height="12.31" fill="#FFA500" stroke="#222" stroke-width="0.9"/>
<rect x="289.6" y="312.66" width="8.3" height="12.31" fill="#FFA500" stroke="#222" stroke-width="0.9"/>
<rect x="289.6" y="324.98" width="8.3" height="12.31" fill="#44AA99" stroke="#222" stroke-width="0.9"/>
<rect x="289.6" y="337.29" width="8.3" height="12.31" fill="#44AA99" stroke="#222" stroke-width="0.9"/>
<rect x="289.6" y="349.61" width="8.3" height="12.31" fill="#44AA99" stroke="#222" stroke-width="0.9"/>
<rect x="289.6" y="361.92" width="8.3" height="12.31" fill="#44AA99" stroke="#222" stroke-width="0.9"/>
<rect x="289.6" y="374.24" width="8.3" height="12.31" fill="#44AA99" stroke="#222" stroke-width="0.9"/>
<rect x="289.6" y="386.55" width="8.3" height="12.31" fill="#44AA99" stroke="#222" stroke-width="0.9"/>
<rect x="289.6" y="398.87" width="8.3" height="12.31" fill="#44AA99" stroke="#222" stroke-width="0.9"/>
<rect x="289.6" y="411.18" width="8.3" height="12.31" fill="#44AA99" stroke="#222" stroke-width="0.9"/>
<rect x="289.6" y="423.5" width="8.3" height="12.31" fill="#EE1A85" stroke="#222" stroke-width="0.9"/>
<rect x="289.6" y="435.81" width="8.3" height="12.31" fill="#EE1A85" stroke="#222" stroke-width="0.9"/>
<rect x="289.6" y="448.13" width="8.3" height="12.31" fill="#EE1A85" stroke="#222" stroke-width="0.9"/>
<text x="351.8" y="187.36" font-size="10.1" text-anchor="end" fill="#1e1e1e" stroke="#1e1e1e" stroke-width="0.22">KLK3</text>
<text x="351.8" y="199.67" font-size="10.1" text-anchor="end" fill="#1e1e1e" stroke="#1e1e1e" stroke-width="0.22">SPOCK1</text>
<text x="351.8" y="211.99" font-size="10.1" text-anchor="end" fill="#1e1e1e" stroke="#1e1e1e" stroke-width="0.22">CTSB</text>
<text x="351.8" y="224.3" font-size="10.1" text-anchor="end" fill="#1e1e1e" stroke="#1e1e1e" stroke-width="0.22">NUTF2</text>
<text x="351.8" y="236.62" font-size="10.1" text-anchor="end" fill="#1e1e1e" stroke="#1e1e1e" stroke-width="0.22">CADM1</text>
<text x="351.8" y="248.93" font-size="10.1" text-anchor="end" fill="#1e1e1e" stroke="#1e1e1e" stroke-width="0.22">PEBP4</text>
<text x="351.8" y="261.25" font-size="10.1" text-anchor="end" fill="#1e1e1e" stroke="#1e1e1e" stroke-width="0.22">CAT</text>
<text x="351.8" y="273.56" font-size="10.1" text-anchor="end" fill="#1e1e1e" stroke="#1e1e1e" stroke-width="0.22">SERPINA1</text>
<text x="351.8" y="285.88" font-size="10.1" text-anchor="end" fill="#1e1e1e" stroke="#1e1e1e" stroke-width="0.22">CST3</text>
<text x="351.8" y="298.19" font-size="10.1" text-anchor="end" fill="#1e1e1e" stroke="#1e1e1e" stroke-width="0.22">MIEN1</text>
<text x="351.8" y="310.51" font-size="10.1" text-anchor="end" fill="#1e1e1e" stroke="#1e1e1e" stroke-width="0.22">ITFG1</text>
<text x="351.8" y="322.82" font-size="10.1" text-anchor="end" fill="#1e1e1e" stroke="#1e1e1e" stroke-width="0.22">GLG1</text>
<text x="351.8" y="335.14" font-size="10.1" text-anchor="end" fill="#1e1e1e" stroke="#1e1e1e" stroke-width="0.22">MB</text>
<text x="351.8" y="347.45" font-size="10.1" text-anchor="end" fill="#1e1e1e" stroke="#1e1e1e" stroke-width="0.22">OCIAD2</text>
<text x="351.8" y="359.77" font-size="10.1" text-anchor="end" fill="#1e1e1e" stroke="#1e1e1e" stroke-width="0.22">ITGAM</text>
<text x="351.8" y="372.08" font-size="10.1" text-anchor="end" fill="#1e1e1e" stroke="#1e1e1e" stroke-width="0.22">KRT78</text>
<text x="351.8" y="384.4" font-size="10.1" text-anchor="end" fill="#1e1e1e" stroke="#1e1e1e" stroke-width="0.22">RPLP1</text>
<text x="351.8" y="396.71" font-size="10.1" text-anchor="end" fill="#1e1e1e" stroke="#1e1e1e" stroke-width="0.22">HBG2</text>
<text x="351.8" y="409.03" font-size="10.1" text-anchor="end" fill="#1e1e1e" stroke="#1e1e1e" stroke-width="0.22">CARHSP1</text>
<text x="351.8" y="421.34" font-size="10.1" text-anchor="end" fill="#1e1e1e" stroke="#1e1e1e" stroke-width="0.22">RPS20</text>
<text x="351.8" y="433.66" font-size="10.1" text-anchor="end" fill="#1e1e1e" stroke="#1e1e1e" stroke-width="0.22">TACC2</text>
<text x="351.8" y="445.97" font-size="10.1" text-anchor="end" fill="#1e1e1e" stroke="#1e1e1e" stroke-width="0.22">CKAP5</text>
<text x="351.8" y="458.29" font-size="10.1" text-anchor="end" fill="#1e1e1e" stroke="#1e1e1e" stroke-width="0.22">GSTM4</text>
<rect x="355.1" y="177.2" width="50.9" height="12.31" fill="#bebebe" stroke="none" stroke-width="1"/>
<rect x="355.1" y="201.83" width="50.9" height="12.31" fill="#bebebe" stroke="none" stroke-width="1"/>
<rect x="355.1" y="226.46" width="50.9" height="12.31" fill="#bebebe" stroke="none" stroke-width="1"/>
<rect x="355.1" y="251.09" width="50.9" height="12.31" fill="#bebebe" stroke="none" stroke-width="1"/>
<rect x="355.1" y="275.72" width="50.9" height="12.31" fill="#bebebe" stroke="none" stroke-width="1"/>
<rect x="355.1" y="300.35" width="50.9" height="12.31" fill="#bebebe" stroke="none" stroke-width="1"/>
<rect x="355.1" y="324.98" width="50.9" height="12.31" fill="#bebebe" stroke="none" stroke-width="1"/>
<rect x="355.1" y="349.61" width="50.9" height="12.31" fill="#bebebe" stroke="none" stroke-width="1"/>
<rect x="355.1" y="374.24" width="50.9" height="12.31" fill="#bebebe" stroke="none" stroke-width="1"/>
<rect x="355.1" y="398.87" width="50.9" height="12.31" fill="#bebebe" stroke="none" stroke-width="1"/>
<rect x="355.1" y="423.5" width="50.9" height="12.31" fill="#bebebe" stroke="none" stroke-width="1"/>
<rect x="355.1" y="448.13" width="50.9" height="12.31" fill="#bebebe" stroke="none" stroke-width="1"/>
<line x1="380.45" y1="177.2" x2="380.45" y2="460.44" stroke="#555" stroke-width="0.8" stroke-dasharray="2 2"/>
<clipPath id="clip177"><rect x="355.1" y="177.2" width="50.9" height="283.25"/></clipPath><g clip-path="url(#clip177)">
<line x1="384.51" y1="183.36" x2="400.22" y2="183.36" stroke="#555" stroke-width="1"/>
<circle cx="392.62" cy="183.36" r="2.15" fill="#000" stroke="none" stroke-width="0.6"/>
<line x1="383.49" y1="195.67" x2="398.2" y2="195.67" stroke="#555" stroke-width="1"/>
<circle cx="390.59" cy="195.67" r="2.15" fill="#000" stroke="none" stroke-width="0.6"/>
<line x1="383.49" y1="207.99" x2="397.69" y2="207.99" stroke="#555" stroke-width="1"/>
<circle cx="390.59" cy="207.99" r="2.15" fill="#000" stroke="none" stroke-width="0.6"/>
<line x1="378.42" y1="220.3" x2="394.14" y2="220.3" stroke="#555" stroke-width="1"/>
<circle cx="386.03" cy="220.3" r="2.15" fill="#000" stroke="none" stroke-width="0.6"/>
<line x1="378.42" y1="232.62" x2="394.14" y2="232.62" stroke="#555" stroke-width="1"/>
<circle cx="386.03" cy="232.62" r="2.15" fill="#000" stroke="none" stroke-width="0.6"/>
<line x1="377.92" y1="244.93" x2="393.63" y2="244.93" stroke="#555" stroke-width="1"/>
<circle cx="385.52" cy="244.93" r="2.15" fill="#000" stroke="none" stroke-width="0.6"/>
<line x1="377.41" y1="257.25" x2="393.63" y2="257.25" stroke="#555" stroke-width="1"/>
<circle cx="385.01" cy="257.25" r="2.15" fill="#000" stroke="none" stroke-width="0.6"/>
<line x1="377.41" y1="269.56" x2="393.63" y2="269.56" stroke="#555" stroke-width="1"/>
<circle cx="385.01" cy="269.56" r="2.15" fill="#000" stroke="none" stroke-width="0.6"/>
<line x1="376.9" y1="281.88" x2="393.63" y2="281.88" stroke="#555" stroke-width="1"/>
<circle cx="384.51" cy="281.88" r="2.15" fill="#000" stroke="none" stroke-width="0.6"/>
<line x1="373.86" y1="294.19" x2="390.08" y2="294.19" stroke="#555" stroke-width="1"/>
<circle cx="381.46" cy="294.19" r="2.15" fill="#000" stroke="none" stroke-width="0.6"/>
<line x1="373.35" y1="306.51" x2="389.07" y2="306.51" stroke="#555" stroke-width="1"/>
<circle cx="380.96" cy="306.51" r="2.15" fill="#000" stroke="none" stroke-width="0.6"/>
<line x1="372.34" y1="318.82" x2="388.56" y2="318.82" stroke="#555" stroke-width="1"/>
<circle cx="379.94" cy="318.82" r="2.15" fill="#000" stroke="none" stroke-width="0.6"/>
<line x1="378.42" y1="331.14" x2="395.66" y2="331.14" stroke="#555" stroke-width="1"/>
<circle cx="386.03" cy="331.14" r="2.15" fill="#000" stroke="none" stroke-width="0.6"/>
<line x1="377.41" y1="343.45" x2="395.66" y2="343.45" stroke="#555" stroke-width="1"/>
<circle cx="385.52" cy="343.45" r="2.15" fill="#000" stroke="none" stroke-width="0.6"/>
<line x1="376.9" y1="355.77" x2="396.17" y2="355.77" stroke="#555" stroke-width="1"/>
<circle cx="385.52" cy="355.77" r="2.15" fill="#000" stroke="none" stroke-width="0.6"/>
<line x1="377.92" y1="368.08" x2="394.14" y2="368.08" stroke="#555" stroke-width="1"/>
<circle cx="385.52" cy="368.08" r="2.15" fill="#000" stroke="none" stroke-width="0.6"/>
<line x1="377.41" y1="380.4" x2="394.65" y2="380.4" stroke="#555" stroke-width="1"/>
<circle cx="385.52" cy="380.4" r="2.15" fill="#000" stroke="none" stroke-width="0.6"/>
<line x1="375.38" y1="392.71" x2="394.14" y2="392.71" stroke="#555" stroke-width="1"/>
<circle cx="384" cy="392.71" r="2.15" fill="#000" stroke="none" stroke-width="0.6"/>
<line x1="375.89" y1="405.03" x2="392.62" y2="405.03" stroke="#555" stroke-width="1"/>
<circle cx="383.49" cy="405.03" r="2.15" fill="#000" stroke="none" stroke-width="0.6"/>
<line x1="375.38" y1="417.34" x2="392.62" y2="417.34" stroke="#555" stroke-width="1"/>
<circle cx="383.49" cy="417.34" r="2.15" fill="#000" stroke="none" stroke-width="0.6"/>
<line x1="379.44" y1="429.66" x2="396.17" y2="429.66" stroke="#555" stroke-width="1"/>
<circle cx="387.55" cy="429.66" r="2.15" fill="#000" stroke="none" stroke-width="0.6"/>
<line x1="376.39" y1="441.97" x2="392.11" y2="441.97" stroke="#555" stroke-width="1"/>
<circle cx="383.49" cy="441.97" r="2.15" fill="#000" stroke="none" stroke-width="0.6"/>
<line x1="373.86" y1="454.29" x2="392.11" y2="454.29" stroke="#555" stroke-width="1"/>
<circle cx="381.97" cy="454.29" r="2.15" fill="#000" stroke="none" stroke-width="0.6"/>
</g>
<rect x="355.1" y="177.2" width="50.9" height="283.25" fill="none" stroke="#8a8a8a" stroke-width="0.9"/>
<line x1="355.1" y1="460.44" x2="355.1" y2="463.25" stroke="#777" stroke-width="0.9"/>
<line x1="365.24" y1="460.44" x2="365.24" y2="463.25" stroke="#777" stroke-width="0.9"/>
<line x1="375.38" y1="460.44" x2="375.38" y2="463.25" stroke="#777" stroke-width="0.9"/>
<line x1="385.52" y1="460.44" x2="385.52" y2="463.25" stroke="#777" stroke-width="0.9"/>
<line x1="395.66" y1="460.44" x2="395.66" y2="463.25" stroke="#777" stroke-width="0.9"/>
<line x1="405.8" y1="460.44" x2="405.8" y2="463.25" stroke="#777" stroke-width="0.9"/>
<rect x="416.8" y="177.2" width="12.13" height="12.31" fill="#303030" stroke="none" stroke-width="1"/>
<rect x="428.93" y="177.2" width="12.13" height="12.31" fill="#303030" stroke="none" stroke-width="1"/>
<rect x="441.07" y="177.2" width="12.13" height="12.31" fill="#303030" stroke="none" stroke-width="1"/>
<rect x="416.8" y="189.51" width="12.13" height="12.31" fill="#5a5a5a" stroke="none" stroke-width="1"/>
<rect x="416.8" y="201.83" width="12.13" height="12.31" fill="#cccccc" stroke="none" stroke-width="1"/>
<rect x="428.93" y="214.14" width="12.13" height="12.31" fill="#cccccc" stroke="none" stroke-width="1"/>
<rect x="416.8" y="238.77" width="12.13" height="12.31" fill="#303030" stroke="none" stroke-width="1"/>
<rect x="428.93" y="238.77" width="12.13" height="12.31" fill="#303030" stroke="none" stroke-width="1"/>
<rect x="416.8" y="251.09" width="12.13" height="12.31" fill="#666666" stroke="none" stroke-width="1"/>
<rect x="428.93" y="251.09" width="12.13" height="12.31" fill="#cccccc" stroke="none" stroke-width="1"/>
<rect x="416.8" y="263.4" width="12.13" height="12.31" fill="#cccccc" stroke="none" stroke-width="1"/>
<rect x="416.8" y="275.72" width="12.13" height="12.31" fill="#666666" stroke="none" stroke-width="1"/>
<rect x="441.07" y="275.72" width="12.13" height="12.31" fill="#303030" stroke="none" stroke-width="1"/>
<rect x="416.8" y="288.03" width="12.13" height="12.31" fill="#303030" stroke="none" stroke-width="1"/>
<rect x="441.07" y="288.03" width="12.13" height="12.31" fill="#eeeeee" stroke="none" stroke-width="1"/>
<rect x="416.8" y="300.35" width="12.13" height="12.31" fill="#cccccc" stroke="none" stroke-width="1"/>
<rect x="428.93" y="300.35" width="12.13" height="12.31" fill="#303030" stroke="none" stroke-width="1"/>
<rect x="416.8" y="312.66" width="12.13" height="12.31" fill="#cccccc" stroke="none" stroke-width="1"/>
<rect x="441.07" y="312.66" width="12.13" height="12.31" fill="#777777" stroke="none" stroke-width="1"/>
<rect x="428.93" y="337.29" width="12.13" height="12.31" fill="#666666" stroke="none" stroke-width="1"/>
<rect x="416.8" y="361.92" width="12.13" height="12.31" fill="#303030" stroke="none" stroke-width="1"/>
<rect x="441.07" y="361.92" width="12.13" height="12.31" fill="#cccccc" stroke="none" stroke-width="1"/>
<rect x="416.8" y="374.24" width="12.13" height="12.31" fill="#666666" stroke="none" stroke-width="1"/>
<rect x="416.8" y="386.55" width="12.13" height="12.31" fill="#888888" stroke="none" stroke-width="1"/>
<rect x="428.93" y="386.55" width="12.13" height="12.31" fill="#303030" stroke="none" stroke-width="1"/>
<rect x="416.8" y="398.87" width="12.13" height="12.31" fill="#303030" stroke="none" stroke-width="1"/>
<rect x="441.07" y="398.87" width="12.13" height="12.31" fill="#dddddd" stroke="none" stroke-width="1"/>
<rect x="428.93" y="411.18" width="12.13" height="12.31" fill="#888888" stroke="none" stroke-width="1"/>
<rect x="428.93" y="423.5" width="12.13" height="12.31" fill="#252525" stroke="none" stroke-width="1"/>
<rect x="428.93" y="435.81" width="12.13" height="12.31" fill="#252525" stroke="none" stroke-width="1"/>
<rect x="428.93" y="448.13" width="12.13" height="12.31" fill="#cccccc" stroke="none" stroke-width="1"/>
<line x1="428.93" y1="177.2" x2="428.93" y2="460.44" stroke="#383838" stroke-width="0.9"/>
<line x1="441.07" y1="177.2" x2="441.07" y2="460.44" stroke="#383838" stroke-width="0.9"/>
<line x1="416.8" y1="189.51" x2="453.2" y2="189.51" stroke="#383838" stroke-width="0.9"/>
<line x1="416.8" y1="201.83" x2="453.2" y2="201.83" stroke="#383838" stroke-width="0.9"/>
<line x1="416.8" y1="214.14" x2="453.2" y2="214.14" stroke="#383838" stroke-width="0.9"/>
<line x1="416.8" y1="226.46" x2="453.2" y2="226.46" stroke="#383838" stroke-width="0.9"/>
<line x1="416.8" y1="238.77" x2="453.2" y2="238.77" stroke="#383838" stroke-width="0.9"/>
<line x1="416.8" y1="251.09" x2="453.2" y2="251.09" stroke="#383838" stroke-width="0.9"/>
<line x1="416.8" y1="263.4" x2="453.2" y2="263.4" stroke="#383838" stroke-width="0.9"/>
<line x1="416.8" y1="275.72" x2="453.2" y2="275.72" stroke="#383838" stroke-width="0.9"/>
<line x1="416.8" y1="288.03" x2="453.2" y2="288.03" stroke="#383838" stroke-width="0.9"/>
<line x1="416.8" y1="300.35" x2="453.2" y2="300.35" stroke="#383838" stroke-width="0.9"/>
<line x1="416.8" y1="312.66" x2="453.2" y2="312.66" stroke="#383838" stroke-width="0.9"/>
<line x1="416.8" y1="324.98" x2="453.2" y2="324.98" stroke="#383838" stroke-width="0.9"/>
<line x1="416.8" y1="337.29" x2="453.2" y2="337.29" stroke="#383838" stroke-width="0.9"/>
<line x1="416.8" y1="349.61" x2="453.2" y2="349.61" stroke="#383838" stroke-width="0.9"/>
<line x1="416.8" y1="361.92" x2="453.2" y2="361.92" stroke="#383838" stroke-width="0.9"/>
<line x1="416.8" y1="374.24" x2="453.2" y2="374.24" stroke="#383838" stroke-width="0.9"/>
<line x1="416.8" y1="386.55" x2="453.2" y2="386.55" stroke="#383838" stroke-width="0.9"/>
<line x1="416.8" y1="398.87" x2="453.2" y2="398.87" stroke="#383838" stroke-width="0.9"/>
<line x1="416.8" y1="411.18" x2="453.2" y2="411.18" stroke="#383838" stroke-width="0.9"/>
<line x1="416.8" y1="423.5" x2="453.2" y2="423.5" stroke="#383838" stroke-width="0.9"/>
<line x1="416.8" y1="435.81" x2="453.2" y2="435.81" stroke="#383838" stroke-width="0.9"/>
<line x1="416.8" y1="448.13" x2="453.2" y2="448.13" stroke="#383838" stroke-width="0.9"/>
<circle cx="422.87" cy="183.36" r="4.8" fill="#1A73FF" stroke="#2a1a1a" stroke-width="0.5"/>
<circle cx="435" cy="183.36" r="4.8" fill="#1A73FF" stroke="#2a1a1a" stroke-width="0.5"/>
<circle cx="447.13" cy="183.36" r="4.8" fill="#1A73FF" stroke="#2a1a1a" stroke-width="0.5"/>
<circle cx="422.87" cy="195.67" r="3.2" fill="#1A73FF" stroke="#2a1a1a" stroke-width="0.5"/>
<line x1="432.2" y1="192.87" x2="437.8" y2="198.47" stroke="#5e5e5e" stroke-width="1"/>
<line x1="432.2" y1="198.47" x2="437.8" y2="192.87" stroke="#5e5e5e" stroke-width="1"/>
<line x1="444.33" y1="192.87" x2="449.93" y2="198.47" stroke="#5e5e5e" stroke-width="1"/>
<line x1="444.33" y1="198.47" x2="449.93" y2="192.87" stroke="#5e5e5e" stroke-width="1"/>
<circle cx="422.87" cy="207.99" r="1.3" fill="#1a4fb0" stroke="#2a1a1a" stroke-width="0.5"/>
<circle cx="435" cy="207.99" r="0.8" fill="#8a8a8a" stroke="none" stroke-width="0.6"/>
<circle cx="447.13" cy="207.99" r="1" fill="#1a4fb0" stroke="#2a1a1a" stroke-width="0.5"/>
<circle cx="422.87" cy="220.3" r="0.8" fill="#8a8a8a" stroke="none" stroke-width="0.6"/>
<circle cx="435" cy="220.3" r="1.75" fill="#1A73FF" stroke="#2a1a1a" stroke-width="0.5"/>
<circle cx="447.13" cy="220.3" r="0.8" fill="#8a8a8a" stroke="none" stroke-width="0.6"/>
<circle cx="422.87" cy="232.62" r="0.8" fill="#8a8a8a" stroke="none" stroke-width="0.6"/>
<line x1="432.2" y1="229.82" x2="437.8" y2="235.42" stroke="#5e5e5e" stroke-width="1"/>
<line x1="432.2" y1="235.42" x2="437.8" y2="229.82" stroke="#5e5e5e" stroke-width="1"/>
<line x1="444.33" y1="229.82" x2="449.93" y2="235.42" stroke="#5e5e5e" stroke-width="1"/>
<line x1="444.33" y1="235.42" x2="449.93" y2="229.82" stroke="#5e5e5e" stroke-width="1"/>
<circle cx="422.87" cy="244.93" r="2.25" fill="#1A73FF" stroke="#2a1a1a" stroke-width="0.5"/>
<circle cx="435" cy="244.93" r="5" fill="#1A73FF" stroke="#2a1a1a" stroke-width="0.5"/>
<line x1="444.33" y1="242.13" x2="449.93" y2="247.73" stroke="#5e5e5e" stroke-width="1"/>
<line x1="444.33" y1="247.73" x2="449.93" y2="242.13" stroke="#5e5e5e" stroke-width="1"/>
<circle cx="422.87" cy="257.25" r="3.7" fill="#C80000" stroke="#2a1a1a" stroke-width="0.5"/>
<circle cx="435" cy="257.25" r="2" fill="#1A73FF" stroke="#2a1a1a" stroke-width="0.5"/>
<circle cx="447.13" cy="257.25" r="0.95" fill="#7a0a0a" stroke="#2a1a1a" stroke-width="0.5"/>
<circle cx="422.87" cy="269.56" r="1.5" fill="#1A73FF" stroke="#2a1a1a" stroke-width="0.5"/>
<circle cx="435" cy="269.56" r="0.95" fill="#7a0a0a" stroke="#2a1a1a" stroke-width="0.5"/>
<circle cx="447.13" cy="269.56" r="1.5" fill="#C80000" stroke="#2a1a1a" stroke-width="0.5"/>
<circle cx="422.87" cy="281.88" r="1.5" fill="#1A73FF" stroke="#2a1a1a" stroke-width="0.5"/>
<circle cx="435" cy="281.88" r="0.8" fill="#8a8a8a" stroke="none" stroke-width="0.6"/>
<circle cx="447.13" cy="281.88" r="2.25" fill="#1A73FF" stroke="#2a1a1a" stroke-width="0.5"/>
<circle cx="422.87" cy="294.19" r="1.3" fill="#1a4fb0" stroke="#2a1a1a" stroke-width="0.5"/>
<circle cx="435" cy="294.19" r="0.8" fill="#8a8a8a" stroke="none" stroke-width="0.6"/>
<circle cx="447.13" cy="294.19" r="5" fill="#C80000" stroke="#2a1a1a" stroke-width="0.5"/>
<circle cx="422.87" cy="306.51" r="1.5" fill="#1A73FF" stroke="#2a1a1a" stroke-width="0.5"/>
<circle cx="435" cy="306.51" r="4.5" fill="#1A73FF" stroke="#2a1a1a" stroke-width="0.5"/>
<circle cx="447.13" cy="306.51" r="0.95" fill="#7a0a0a" stroke="#2a1a1a" stroke-width="0.5"/>
<circle cx="422.87" cy="318.82" r="1.3" fill="#1a4fb0" stroke="#2a1a1a" stroke-width="0.5"/>
<circle cx="435" cy="318.82" r="0.95" fill="#7a0a0a" stroke="#2a1a1a" stroke-width="0.5"/>
<circle cx="447.13" cy="318.82" r="4" fill="#1A73FF" stroke="#2a1a1a" stroke-width="0.5"/>
<circle cx="422.87" cy="331.14" r="0.8" fill="#8a8a8a" stroke="none" stroke-width="0.6"/>
<circle cx="435" cy="331.14" r="1.3" fill="#1a4fb0" stroke="#2a1a1a" stroke-width="0.5"/>
<line x1="444.33" y1="328.34" x2="449.93" y2="333.94" stroke="#5e5e5e" stroke-width="1"/>
<line x1="444.33" y1="333.94" x2="449.93" y2="328.34" stroke="#5e5e5e" stroke-width="1"/>
<line x1="420.07" y1="340.65" x2="425.67" y2="346.25" stroke="#5e5e5e" stroke-width="1"/>
<line x1="420.07" y1="346.25" x2="425.67" y2="340.65" stroke="#5e5e5e" stroke-width="1"/>
<circle cx="435" cy="343.45" r="3.25" fill="#C80000" stroke="#2a1a1a" stroke-width="0.5"/>
<line x1="444.33" y1="340.65" x2="449.93" y2="346.25" stroke="#5e5e5e" stroke-width="1"/>
<line x1="444.33" y1="346.25" x2="449.93" y2="340.65" stroke="#5e5e5e" stroke-width="1"/>
<circle cx="422.87" cy="355.77" r="1.75" fill="#C80000" stroke="#2a1a1a" stroke-width="0.5"/>
<circle cx="435" cy="355.77" r="3.25" fill="#C80000" stroke="#2a1a1a" stroke-width="0.5"/>
<line x1="444.33" y1="352.97" x2="449.93" y2="358.57" stroke="#5e5e5e" stroke-width="1"/>
<line x1="444.33" y1="358.57" x2="449.93" y2="352.97" stroke="#5e5e5e" stroke-width="1"/>
<circle cx="422.87" cy="368.08" r="5" fill="#C80000" stroke="#2a1a1a" stroke-width="0.5"/>
<circle cx="435" cy="368.08" r="0.95" fill="#7a0a0a" stroke="#2a1a1a" stroke-width="0.5"/>
<circle cx="447.13" cy="368.08" r="2.75" fill="#1A73FF" stroke="#2a1a1a" stroke-width="0.5"/>
<circle cx="422.87" cy="380.4" r="2.25" fill="#1A73FF" stroke="#2a1a1a" stroke-width="0.5"/>
<circle cx="435" cy="380.4" r="0.8" fill="#8a8a8a" stroke="none" stroke-width="0.6"/>
<line x1="444.33" y1="377.6" x2="449.93" y2="383.2" stroke="#5e5e5e" stroke-width="1"/>
<line x1="444.33" y1="383.2" x2="449.93" y2="377.6" stroke="#5e5e5e" stroke-width="1"/>
<circle cx="422.87" cy="392.71" r="2.25" fill="#C80000" stroke="#2a1a1a" stroke-width="0.5"/>
<circle cx="435" cy="392.71" r="4.5" fill="#C80000" stroke="#2a1a1a" stroke-width="0.5"/>
<circle cx="447.13" cy="392.71" r="2" fill="#C80000" stroke="#2a1a1a" stroke-width="0.5"/>
<circle cx="422.87" cy="405.03" r="5" fill="#C80000" stroke="#2a1a1a" stroke-width="0.5"/>
<circle cx="435" cy="405.03" r="0.95" fill="#7a0a0a" stroke="#2a1a1a" stroke-width="0.5"/>
<circle cx="447.13" cy="405.03" r="5" fill="#C80000" stroke="#2a1a1a" stroke-width="0.5"/>
<line x1="420.07" y1="414.54" x2="425.67" y2="420.14" stroke="#5e5e5e" stroke-width="1"/>
<line x1="420.07" y1="420.14" x2="425.67" y2="414.54" stroke="#5e5e5e" stroke-width="1"/>
<circle cx="435" cy="417.34" r="1.75" fill="#1A73FF" stroke="#2a1a1a" stroke-width="0.5"/>
<line x1="444.33" y1="414.54" x2="449.93" y2="420.14" stroke="#5e5e5e" stroke-width="1"/>
<line x1="444.33" y1="420.14" x2="449.93" y2="414.54" stroke="#5e5e5e" stroke-width="1"/>
<circle cx="422.87" cy="429.66" r="0.95" fill="#7a0a0a" stroke="#2a1a1a" stroke-width="0.5"/>
<circle cx="435" cy="429.66" r="4.5" fill="#1A73FF" stroke="#2a1a1a" stroke-width="0.5"/>
<circle cx="447.13" cy="429.66" r="0.8" fill="#8a8a8a" stroke="none" stroke-width="0.6"/>
<line x1="420.07" y1="439.17" x2="425.67" y2="444.77" stroke="#5e5e5e" stroke-width="1"/>
<line x1="420.07" y1="444.77" x2="425.67" y2="439.17" stroke="#5e5e5e" stroke-width="1"/>
<circle cx="435" cy="441.97" r="4.5" fill="#1A73FF" stroke="#2a1a1a" stroke-width="0.5"/>
<circle cx="447.13" cy="441.97" r="0.95" fill="#7a0a0a" stroke="#2a1a1a" stroke-width="0.5"/>
<circle cx="422.87" cy="454.29" r="1.3" fill="#1a4fb0" stroke="#2a1a1a" stroke-width="0.5"/>
<circle cx="435" cy="454.29" r="4" fill="#1A73FF" stroke="#2a1a1a" stroke-width="0.5"/>
<circle cx="447.13" cy="454.29" r="0.95" fill="#1a4fb0" stroke="#2a1a1a" stroke-width="0.5"/>
<rect x="416.8" y="177.2" width="36.4" height="283.25" fill="none" stroke="#3a3a3a" stroke-width="1.3" rx="1.2"/>
<rect x="463.3" y="189.51" width="11.97" height="12.31" fill="#ababab" stroke="none" stroke-width="1"/>
<rect x="463.3" y="201.83" width="11.97" height="12.31" fill="#8a8a8a" stroke="none" stroke-width="1"/>
<rect x="463.3" y="251.09" width="11.97" height="12.31" fill="#bbbbbb" stroke="none" stroke-width="1"/>
<rect x="463.3" y="386.55" width="11.97" height="12.31" fill="#666666" stroke="none" stroke-width="1"/>
<line x1="475.27" y1="177.2" x2="475.27" y2="460.44" stroke="#383838" stroke-width="0.9"/>
<line x1="487.23" y1="177.2" x2="487.23" y2="460.44" stroke="#383838" stroke-width="0.9"/>
<line x1="463.3" y1="189.51" x2="499.2" y2="189.51" stroke="#383838" stroke-width="0.9"/>
<line x1="463.3" y1="201.83" x2="499.2" y2="201.83" stroke="#383838" stroke-width="0.9"/>
<line x1="463.3" y1="214.14" x2="499.2" y2="214.14" stroke="#383838" stroke-width="0.9"/>
<line x1="463.3" y1="226.46" x2="499.2" y2="226.46" stroke="#383838" stroke-width="0.9"/>
<line x1="463.3" y1="238.77" x2="499.2" y2="238.77" stroke="#383838" stroke-width="0.9"/>
<line x1="463.3" y1="251.09" x2="499.2" y2="251.09" stroke="#383838" stroke-width="0.9"/>
<line x1="463.3" y1="263.4" x2="499.2" y2="263.4" stroke="#383838" stroke-width="0.9"/>
<line x1="463.3" y1="275.72" x2="499.2" y2="275.72" stroke="#383838" stroke-width="0.9"/>
<line x1="463.3" y1="288.03" x2="499.2" y2="288.03" stroke="#383838" stroke-width="0.9"/>
<line x1="463.3" y1="300.35" x2="499.2" y2="300.35" stroke="#383838" stroke-width="0.9"/>
<line x1="463.3" y1="312.66" x2="499.2" y2="312.66" stroke="#383838" stroke-width="0.9"/>
<line x1="463.3" y1="324.98" x2="499.2" y2="324.98" stroke="#383838" stroke-width="0.9"/>
<line x1="463.3" y1="337.29" x2="499.2" y2="337.29" stroke="#383838" stroke-width="0.9"/>
<line x1="463.3" y1="349.61" x2="499.2" y2="349.61" stroke="#383838" stroke-width="0.9"/>
<line x1="463.3" y1="361.92" x2="499.2" y2="361.92" stroke="#383838" stroke-width="0.9"/>
<line x1="463.3" y1="374.24" x2="499.2" y2="374.24" stroke="#383838" stroke-width="0.9"/>
<line x1="463.3" y1="386.55" x2="499.2" y2="386.55" stroke="#383838" stroke-width="0.9"/>
<line x1="463.3" y1="398.87" x2="499.2" y2="398.87" stroke="#383838" stroke-width="0.9"/>
<line x1="463.3" y1="411.18" x2="499.2" y2="411.18" stroke="#383838" stroke-width="0.9"/>
<line x1="463.3" y1="423.5" x2="499.2" y2="423.5" stroke="#383838" stroke-width="0.9"/>
<line x1="463.3" y1="435.81" x2="499.2" y2="435.81" stroke="#383838" stroke-width="0.9"/>
<line x1="463.3" y1="448.13" x2="499.2" y2="448.13" stroke="#383838" stroke-width="0.9"/>
<circle cx="469.28" cy="183.36" r="2" fill="#1A73FF" stroke="#2a1a1a" stroke-width="0.5"/>
<circle cx="481.25" cy="183.36" r="1.25" fill="#1a4fb0" stroke="#2a1a1a" stroke-width="0.5"/>
<circle cx="493.22" cy="183.36" r="1.5" fill="#1A73FF" stroke="#2a1a1a" stroke-width="0.5"/>
<circle cx="469.28" cy="195.67" r="3.25" fill="#1A73FF" stroke="#2a1a1a" stroke-width="0.5"/>
<line x1="478.45" y1="192.87" x2="484.05" y2="198.47" stroke="#5e5e5e" stroke-width="1"/>
<line x1="478.45" y1="198.47" x2="484.05" y2="192.87" stroke="#5e5e5e" stroke-width="1"/>
<line x1="490.42" y1="192.87" x2="496.02" y2="198.47" stroke="#5e5e5e" stroke-width="1"/>
<line x1="490.42" y1="198.47" x2="496.02" y2="192.87" stroke="#5e5e5e" stroke-width="1"/>
<circle cx="469.28" cy="207.99" r="1.5" fill="#C80000" stroke="#2a1a1a" stroke-width="0.5"/>
<circle cx="481.25" cy="207.99" r="2.25" fill="#C80000" stroke="#2a1a1a" stroke-width="0.5"/>
<circle cx="493.22" cy="207.99" r="1.5" fill="#C80000" stroke="#2a1a1a" stroke-width="0.5"/>
<circle cx="469.28" cy="220.3" r="0.8" fill="#8a8a8a" stroke="none" stroke-width="0.6"/>
<circle cx="481.25" cy="220.3" r="0.8" fill="#8a8a8a" stroke="none" stroke-width="0.6"/>
<circle cx="493.22" cy="220.3" r="0.8" fill="#8a8a8a" stroke="none" stroke-width="0.6"/>
<circle cx="469.28" cy="232.62" r="0.95" fill="#7a0a0a" stroke="#2a1a1a" stroke-width="0.5"/>
<line x1="478.45" y1="229.82" x2="484.05" y2="235.42" stroke="#5e5e5e" stroke-width="1"/>
<line x1="478.45" y1="235.42" x2="484.05" y2="229.82" stroke="#5e5e5e" stroke-width="1"/>
<line x1="490.42" y1="229.82" x2="496.02" y2="235.42" stroke="#5e5e5e" stroke-width="1"/>
<line x1="490.42" y1="235.42" x2="496.02" y2="229.82" stroke="#5e5e5e" stroke-width="1"/>
<circle cx="469.28" cy="244.93" r="1.25" fill="#1a4fb0" stroke="#2a1a1a" stroke-width="0.5"/>
<circle cx="481.25" cy="244.93" r="0.95" fill="#1a4fb0" stroke="#2a1a1a" stroke-width="0.5"/>
<line x1="490.42" y1="242.13" x2="496.02" y2="247.73" stroke="#5e5e5e" stroke-width="1"/>
<line x1="490.42" y1="247.73" x2="496.02" y2="242.13" stroke="#5e5e5e" stroke-width="1"/>
<circle cx="469.28" cy="257.25" r="3" fill="#C80000" stroke="#2a1a1a" stroke-width="0.5"/>
<circle cx="481.25" cy="257.25" r="0.8" fill="#8a8a8a" stroke="none" stroke-width="0.6"/>
<circle cx="493.22" cy="257.25" r="1.25" fill="#7a0a0a" stroke="#2a1a1a" stroke-width="0.5"/>
<circle cx="469.28" cy="269.56" r="0.8" fill="#8a8a8a" stroke="none" stroke-width="0.6"/>
<circle cx="481.25" cy="269.56" r="0.8" fill="#8a8a8a" stroke="none" stroke-width="0.6"/>
<circle cx="493.22" cy="269.56" r="0.8" fill="#8a8a8a" stroke="none" stroke-width="0.6"/>
<circle cx="469.28" cy="281.88" r="0.8" fill="#8a8a8a" stroke="none" stroke-width="0.6"/>
<circle cx="481.25" cy="281.88" r="0.8" fill="#8a8a8a" stroke="none" stroke-width="0.6"/>
<circle cx="493.22" cy="281.88" r="0.8" fill="#8a8a8a" stroke="none" stroke-width="0.6"/>
<circle cx="469.28" cy="294.19" r="0.8" fill="#8a8a8a" stroke="none" stroke-width="0.6"/>
<circle cx="481.25" cy="294.19" r="0.8" fill="#8a8a8a" stroke="none" stroke-width="0.6"/>
<circle cx="493.22" cy="294.19" r="4" fill="#C80000" stroke="#2a1a1a" stroke-width="0.5"/>
<circle cx="469.28" cy="306.51" r="0.95" fill="#1a4fb0" stroke="#2a1a1a" stroke-width="0.5"/>
<circle cx="481.25" cy="306.51" r="1.25" fill="#1a4fb0" stroke="#2a1a1a" stroke-width="0.5"/>
<circle cx="493.22" cy="306.51" r="0.95" fill="#7a0a0a" stroke="#2a1a1a" stroke-width="0.5"/>
<circle cx="469.28" cy="318.82" r="0.8" fill="#8a8a8a" stroke="none" stroke-width="0.6"/>
<circle cx="481.25" cy="318.82" r="0.95" fill="#7a0a0a" stroke="#2a1a1a" stroke-width="0.5"/>
<circle cx="493.22" cy="318.82" r="0.8" fill="#8a8a8a" stroke="none" stroke-width="0.6"/>
<circle cx="469.28" cy="331.14" r="3.25" fill="#1A73FF" stroke="#2a1a1a" stroke-width="0.5"/>
<circle cx="481.25" cy="331.14" r="1.5" fill="#1A73FF" stroke="#2a1a1a" stroke-width="0.5"/>
<line x1="490.42" y1="328.34" x2="496.02" y2="333.94" stroke="#5e5e5e" stroke-width="1"/>
<line x1="490.42" y1="333.94" x2="496.02" y2="328.34" stroke="#5e5e5e" stroke-width="1"/>
<line x1="466.48" y1="340.65" x2="472.08" y2="346.25" stroke="#5e5e5e" stroke-width="1"/>
<line x1="466.48" y1="346.25" x2="472.08" y2="340.65" stroke="#5e5e5e" stroke-width="1"/>
<circle cx="481.25" cy="343.45" r="1.5" fill="#C80000" stroke="#2a1a1a" stroke-width="0.5"/>
<line x1="490.42" y1="340.65" x2="496.02" y2="346.25" stroke="#5e5e5e" stroke-width="1"/>
<line x1="490.42" y1="346.25" x2="496.02" y2="340.65" stroke="#5e5e5e" stroke-width="1"/>
<circle cx="469.28" cy="355.77" r="2.5" fill="#C80000" stroke="#2a1a1a" stroke-width="0.5"/>
<circle cx="481.25" cy="355.77" r="1.75" fill="#C80000" stroke="#2a1a1a" stroke-width="0.5"/>
<circle cx="493.22" cy="355.77" r="1.25" fill="#7a0a0a" stroke="#2a1a1a" stroke-width="0.5"/>
<circle cx="469.28" cy="368.08" r="4.25" fill="#C80000" stroke="#2a1a1a" stroke-width="0.5"/>
<circle cx="481.25" cy="368.08" r="0.95" fill="#7a0a0a" stroke="#2a1a1a" stroke-width="0.5"/>
<circle cx="493.22" cy="368.08" r="2.5" fill="#1A73FF" stroke="#2a1a1a" stroke-width="0.5"/>
<circle cx="469.28" cy="380.4" r="0.8" fill="#8a8a8a" stroke="none" stroke-width="0.6"/>
<circle cx="481.25" cy="380.4" r="1" fill="#7a0a0a" stroke="#2a1a1a" stroke-width="0.5"/>
<line x1="490.42" y1="377.6" x2="496.02" y2="383.2" stroke="#5e5e5e" stroke-width="1"/>
<line x1="490.42" y1="383.2" x2="496.02" y2="377.6" stroke="#5e5e5e" stroke-width="1"/>
<circle cx="469.28" cy="392.71" r="4.25" fill="#C80000" stroke="#2a1a1a" stroke-width="0.5"/>
<circle cx="481.25" cy="392.71" r="1" fill="#7a0a0a" stroke="#2a1a1a" stroke-width="0.5"/>
<circle cx="493.22" cy="392.71" r="2.25" fill="#C80000" stroke="#2a1a1a" stroke-width="0.5"/>
<circle cx="469.28" cy="405.03" r="5" fill="#C80000" stroke="#2a1a1a" stroke-width="0.5"/>
<circle cx="481.25" cy="405.03" r="0.8" fill="#8a8a8a" stroke="none" stroke-width="0.6"/>
<circle cx="493.22" cy="405.03" r="1.25" fill="#7a0a0a" stroke="#2a1a1a" stroke-width="0.5"/>
<line x1="466.48" y1="414.54" x2="472.08" y2="420.14" stroke="#5e5e5e" stroke-width="1"/>
<line x1="466.48" y1="420.14" x2="472.08" y2="414.54" stroke="#5e5e5e" stroke-width="1"/>
<circle cx="481.25" cy="417.34" r="1.25" fill="#1a4fb0" stroke="#2a1a1a" stroke-width="0.5"/>
<line x1="490.42" y1="414.54" x2="496.02" y2="420.14" stroke="#5e5e5e" stroke-width="1"/>
<line x1="490.42" y1="420.14" x2="496.02" y2="414.54" stroke="#5e5e5e" stroke-width="1"/>
<circle cx="469.28" cy="429.66" r="0.8" fill="#8a8a8a" stroke="none" stroke-width="0.6"/>
<line x1="478.45" y1="426.86" x2="484.05" y2="432.46" stroke="#5e5e5e" stroke-width="1"/>
<line x1="478.45" y1="432.46" x2="484.05" y2="426.86" stroke="#5e5e5e" stroke-width="1"/>
<circle cx="493.22" cy="429.66" r="1.5" fill="#C80000" stroke="#2a1a1a" stroke-width="0.5"/>
<line x1="466.48" y1="439.17" x2="472.08" y2="444.77" stroke="#5e5e5e" stroke-width="1"/>
<line x1="466.48" y1="444.77" x2="472.08" y2="439.17" stroke="#5e5e5e" stroke-width="1"/>
<circle cx="481.25" cy="441.97" r="0.8" fill="#8a8a8a" stroke="none" stroke-width="0.6"/>
<circle cx="493.22" cy="441.97" r="0.95" fill="#7a0a0a" stroke="#2a1a1a" stroke-width="0.5"/>
<circle cx="469.28" cy="454.29" r="1.25" fill="#7a0a0a" stroke="#2a1a1a" stroke-width="0.5"/>
<circle cx="481.25" cy="454.29" r="0.8" fill="#8a8a8a" stroke="none" stroke-width="0.6"/>
<circle cx="493.22" cy="454.29" r="2.25" fill="#C80000" stroke="#2a1a1a" stroke-width="0.5"/>
<rect x="463.3" y="177.2" width="35.9" height="283.25" fill="none" stroke="#3a3a3a" stroke-width="1.3" rx="1.2"/>
<line x1="520.3" y1="177.2" x2="520.3" y2="460.44" stroke="#383838" stroke-width="0.9"/>
<line x1="531.1" y1="177.2" x2="531.1" y2="460.44" stroke="#383838" stroke-width="0.9"/>
<line x1="509.5" y1="189.51" x2="541.9" y2="189.51" stroke="#383838" stroke-width="0.9"/>
<line x1="509.5" y1="201.83" x2="541.9" y2="201.83" stroke="#383838" stroke-width="0.9"/>
<line x1="509.5" y1="214.14" x2="541.9" y2="214.14" stroke="#383838" stroke-width="0.9"/>
<line x1="509.5" y1="226.46" x2="541.9" y2="226.46" stroke="#383838" stroke-width="0.9"/>
<line x1="509.5" y1="238.77" x2="541.9" y2="238.77" stroke="#383838" stroke-width="0.9"/>
<line x1="509.5" y1="251.09" x2="541.9" y2="251.09" stroke="#383838" stroke-width="0.9"/>
<line x1="509.5" y1="263.4" x2="541.9" y2="263.4" stroke="#383838" stroke-width="0.9"/>
<line x1="509.5" y1="275.72" x2="541.9" y2="275.72" stroke="#383838" stroke-width="0.9"/>
<line x1="509.5" y1="288.03" x2="541.9" y2="288.03" stroke="#383838" stroke-width="0.9"/>
<line x1="509.5" y1="300.35" x2="541.9" y2="300.35" stroke="#383838" stroke-width="0.9"/>
<line x1="509.5" y1="312.66" x2="541.9" y2="312.66" stroke="#383838" stroke-width="0.9"/>
<line x1="509.5" y1="324.98" x2="541.9" y2="324.98" stroke="#383838" stroke-width="0.9"/>
<line x1="509.5" y1="337.29" x2="541.9" y2="337.29" stroke="#383838" stroke-width="0.9"/>
<line x1="509.5" y1="349.61" x2="541.9" y2="349.61" stroke="#383838" stroke-width="0.9"/>
<line x1="509.5" y1="361.92" x2="541.9" y2="361.92" stroke="#383838" stroke-width="0.9"/>
<line x1="509.5" y1="374.24" x2="541.9" y2="374.24" stroke="#383838" stroke-width="0.9"/>
<line x1="509.5" y1="386.55" x2="541.9" y2="386.55" stroke="#383838" stroke-width="0.9"/>
<line x1="509.5" y1="398.87" x2="541.9" y2="398.87" stroke="#383838" stroke-width="0.9"/>
<line x1="509.5" y1="411.18" x2="541.9" y2="411.18" stroke="#383838" stroke-width="0.9"/>
<line x1="509.5" y1="423.5" x2="541.9" y2="423.5" stroke="#383838" stroke-width="0.9"/>
<line x1="509.5" y1="435.81" x2="541.9" y2="435.81" stroke="#383838" stroke-width="0.9"/>
<line x1="509.5" y1="448.13" x2="541.9" y2="448.13" stroke="#383838" stroke-width="0.9"/>
<circle cx="514.9" cy="183.36" r="3.4" fill="#b0b0b0" stroke="#6a6a6a" stroke-width="1.1"/>
<circle cx="525.7" cy="183.36" r="3.9" fill="#b0b0b0" stroke="#6a6a6a" stroke-width="1.1"/>
<circle cx="536.5" cy="183.36" r="4.15" fill="#b0b0b0" stroke="#6a6a6a" stroke-width="1.1"/>
<circle cx="514.9" cy="195.67" r="3.15" fill="#b0b0b0" stroke="#6a6a6a" stroke-width="1.1"/>
<line x1="522.9" y1="192.87" x2="528.5" y2="198.47" stroke="#5e5e5e" stroke-width="1"/>
<line x1="522.9" y1="198.47" x2="528.5" y2="192.87" stroke="#5e5e5e" stroke-width="1"/>
<line x1="533.7" y1="192.87" x2="539.3" y2="198.47" stroke="#5e5e5e" stroke-width="1"/>
<line x1="533.7" y1="198.47" x2="539.3" y2="192.87" stroke="#5e5e5e" stroke-width="1"/>
<circle cx="514.9" cy="207.99" r="2.65" fill="#b0b0b0" stroke="#6a6a6a" stroke-width="1.1"/>
<circle cx="525.7" cy="207.99" r="1.2" fill="#555" stroke="none" stroke-width="0.6"/>
<circle cx="536.5" cy="207.99" r="3.4" fill="#b0b0b0" stroke="#6a6a6a" stroke-width="1.1"/>
<circle cx="514.9" cy="220.3" r="2.4" fill="#b0b0b0" stroke="#6a6a6a" stroke-width="1.1"/>
<circle cx="525.7" cy="220.3" r="0.7" fill="#555" stroke="none" stroke-width="0.6"/>
<circle cx="536.5" cy="220.3" r="2.15" fill="#b0b0b0" stroke="#6a6a6a" stroke-width="1.1"/>
<circle cx="514.9" cy="232.62" r="4.4" fill="#b0b0b0" stroke="#6a6a6a" stroke-width="1.1"/>
<line x1="522.9" y1="229.82" x2="528.5" y2="235.42" stroke="#5e5e5e" stroke-width="1"/>
<line x1="522.9" y1="235.42" x2="528.5" y2="229.82" stroke="#5e5e5e" stroke-width="1"/>
<line x1="533.7" y1="229.82" x2="539.3" y2="235.42" stroke="#5e5e5e" stroke-width="1"/>
<line x1="533.7" y1="235.42" x2="539.3" y2="229.82" stroke="#5e5e5e" stroke-width="1"/>
<circle cx="514.9" cy="244.93" r="3.65" fill="#b0b0b0" stroke="#6a6a6a" stroke-width="1.1"/>
<line x1="522.9" y1="242.13" x2="528.5" y2="247.73" stroke="#5e5e5e" stroke-width="1"/>
<line x1="522.9" y1="247.73" x2="528.5" y2="242.13" stroke="#5e5e5e" stroke-width="1"/>
<line x1="533.7" y1="242.13" x2="539.3" y2="247.73" stroke="#5e5e5e" stroke-width="1"/>
<line x1="533.7" y1="247.73" x2="539.3" y2="242.13" stroke="#5e5e5e" stroke-width="1"/>
<circle cx="514.9" cy="257.25" r="3.15" fill="#b0b0b0" stroke="#6a6a6a" stroke-width="1.1"/>
<circle cx="525.7" cy="257.25" r="3.65" fill="#b0b0b0" stroke="#6a6a6a" stroke-width="1.1"/>
<circle cx="536.5" cy="257.25" r="2.15" fill="#b0b0b0" stroke="#6a6a6a" stroke-width="1.1"/>
<circle cx="514.9" cy="269.56" r="3.9" fill="#b0b0b0" stroke="#6a6a6a" stroke-width="1.1"/>
<line x1="522.9" y1="266.76" x2="528.5" y2="272.36" stroke="#5e5e5e" stroke-width="1"/>
<line x1="522.9" y1="272.36" x2="528.5" y2="266.76" stroke="#5e5e5e" stroke-width="1"/>
<circle cx="536.5" cy="269.56" r="1.4" fill="#b0b0b0" stroke="#6a6a6a" stroke-width="1.1"/>
<circle cx="514.9" cy="281.88" r="4.4" fill="#b0b0b0" stroke="#6a6a6a" stroke-width="1.1"/>
<circle cx="525.7" cy="281.88" r="2.15" fill="#b0b0b0" stroke="#6a6a6a" stroke-width="1.1"/>
<circle cx="536.5" cy="281.88" r="0.95" fill="#555" stroke="none" stroke-width="0.6"/>
<circle cx="514.9" cy="294.19" r="2.9" fill="#b0b0b0" stroke="#6a6a6a" stroke-width="1.1"/>
<line x1="522.9" y1="291.39" x2="528.5" y2="296.99" stroke="#5e5e5e" stroke-width="1"/>
<line x1="522.9" y1="296.99" x2="528.5" y2="291.39" stroke="#5e5e5e" stroke-width="1"/>
<line x1="533.7" y1="291.39" x2="539.3" y2="296.99" stroke="#5e5e5e" stroke-width="1"/>
<line x1="533.7" y1="296.99" x2="539.3" y2="291.39" stroke="#5e5e5e" stroke-width="1"/>
<circle cx="514.9" cy="306.51" r="4.15" fill="#b0b0b0" stroke="#6a6a6a" stroke-width="1.1"/>
<circle cx="525.7" cy="306.51" r="1.4" fill="#b0b0b0" stroke="#6a6a6a" stroke-width="1.1"/>
<circle cx="536.5" cy="306.51" r="1.2" fill="#555" stroke="none" stroke-width="0.6"/>
<circle cx="514.9" cy="318.82" r="3.65" fill="#b0b0b0" stroke="#6a6a6a" stroke-width="1.1"/>
<line x1="522.9" y1="316.02" x2="528.5" y2="321.62" stroke="#5e5e5e" stroke-width="1"/>
<line x1="522.9" y1="321.62" x2="528.5" y2="316.02" stroke="#5e5e5e" stroke-width="1"/>
<line x1="533.7" y1="316.02" x2="539.3" y2="321.62" stroke="#5e5e5e" stroke-width="1"/>
<line x1="533.7" y1="321.62" x2="539.3" y2="316.02" stroke="#5e5e5e" stroke-width="1"/>
<circle cx="514.9" cy="331.14" r="2.9" fill="#b0b0b0" stroke="#6a6a6a" stroke-width="1.1"/>
<circle cx="525.7" cy="331.14" r="3.15" fill="#b0b0b0" stroke="#6a6a6a" stroke-width="1.1"/>
<circle cx="536.5" cy="331.14" r="0.7" fill="#555" stroke="none" stroke-width="0.6"/>
<line x1="512.1" y1="340.65" x2="517.7" y2="346.25" stroke="#5e5e5e" stroke-width="1"/>
<line x1="512.1" y1="346.25" x2="517.7" y2="340.65" stroke="#5e5e5e" stroke-width="1"/>
<circle cx="525.7" cy="343.45" r="2.9" fill="#b0b0b0" stroke="#6a6a6a" stroke-width="1.1"/>
<line x1="533.7" y1="340.65" x2="539.3" y2="346.25" stroke="#5e5e5e" stroke-width="1"/>
<line x1="533.7" y1="346.25" x2="539.3" y2="340.65" stroke="#5e5e5e" stroke-width="1"/>
<line x1="512.1" y1="352.97" x2="517.7" y2="358.57" stroke="#5e5e5e" stroke-width="1"/>
<line x1="512.1" y1="358.57" x2="517.7" y2="352.97" stroke="#5e5e5e" stroke-width="1"/>
<circle cx="525.7" cy="355.77" r="4.65" fill="#b0b0b0" stroke="#6a6a6a" stroke-width="1.1"/>
<line x1="533.7" y1="352.97" x2="539.3" y2="358.57" stroke="#5e5e5e" stroke-width="1"/>
<line x1="533.7" y1="358.57" x2="539.3" y2="352.97" stroke="#5e5e5e" stroke-width="1"/>
<circle cx="514.9" cy="368.08" r="0.95" fill="#555" stroke="none" stroke-width="0.6"/>
<circle cx="525.7" cy="368.08" r="2.4" fill="#b0b0b0" stroke="#6a6a6a" stroke-width="1.1"/>
<line x1="533.7" y1="365.28" x2="539.3" y2="370.88" stroke="#5e5e5e" stroke-width="1"/>
<line x1="533.7" y1="370.88" x2="539.3" y2="365.28" stroke="#5e5e5e" stroke-width="1"/>
<line x1="512.1" y1="377.6" x2="517.7" y2="383.2" stroke="#5e5e5e" stroke-width="1"/>
<line x1="512.1" y1="383.2" x2="517.7" y2="377.6" stroke="#5e5e5e" stroke-width="1"/>
<circle cx="525.7" cy="380.4" r="3.4" fill="#b0b0b0" stroke="#6a6a6a" stroke-width="1.1"/>
<line x1="533.7" y1="377.6" x2="539.3" y2="383.2" stroke="#5e5e5e" stroke-width="1"/>
<line x1="533.7" y1="383.2" x2="539.3" y2="377.6" stroke="#5e5e5e" stroke-width="1"/>
<line x1="512.1" y1="389.91" x2="517.7" y2="395.51" stroke="#5e5e5e" stroke-width="1"/>
<line x1="512.1" y1="395.51" x2="517.7" y2="389.91" stroke="#5e5e5e" stroke-width="1"/>
<circle cx="525.7" cy="392.71" r="4.4" fill="#b0b0b0" stroke="#6a6a6a" stroke-width="1.1"/>
<line x1="533.7" y1="389.91" x2="539.3" y2="395.51" stroke="#5e5e5e" stroke-width="1"/>
<line x1="533.7" y1="395.51" x2="539.3" y2="389.91" stroke="#5e5e5e" stroke-width="1"/>
<line x1="512.1" y1="402.23" x2="517.7" y2="407.83" stroke="#5e5e5e" stroke-width="1"/>
<line x1="512.1" y1="407.83" x2="517.7" y2="402.23" stroke="#5e5e5e" stroke-width="1"/>
<circle cx="525.7" cy="405.03" r="2.9" fill="#b0b0b0" stroke="#6a6a6a" stroke-width="1.1"/>
<circle cx="536.5" cy="405.03" r="2.15" fill="#b0b0b0" stroke="#6a6a6a" stroke-width="1.1"/>
<line x1="512.1" y1="414.54" x2="517.7" y2="420.14" stroke="#5e5e5e" stroke-width="1"/>
<line x1="512.1" y1="420.14" x2="517.7" y2="414.54" stroke="#5e5e5e" stroke-width="1"/>
<circle cx="525.7" cy="417.34" r="3.65" fill="#b0b0b0" stroke="#6a6a6a" stroke-width="1.1"/>
<line x1="533.7" y1="414.54" x2="539.3" y2="420.14" stroke="#5e5e5e" stroke-width="1"/>
<line x1="533.7" y1="420.14" x2="539.3" y2="414.54" stroke="#5e5e5e" stroke-width="1"/>
<line x1="512.1" y1="426.86" x2="517.7" y2="432.46" stroke="#5e5e5e" stroke-width="1"/>
<line x1="512.1" y1="432.46" x2="517.7" y2="426.86" stroke="#5e5e5e" stroke-width="1"/>
<circle cx="525.7" cy="429.66" r="1.9" fill="#b0b0b0" stroke="#6a6a6a" stroke-width="1.1"/>
<circle cx="536.5" cy="429.66" r="3.4" fill="#b0b0b0" stroke="#6a6a6a" stroke-width="1.1"/>
<line x1="512.1" y1="439.17" x2="517.7" y2="444.77" stroke="#5e5e5e" stroke-width="1"/>
<line x1="512.1" y1="444.77" x2="517.7" y2="439.17" stroke="#5e5e5e" stroke-width="1"/>
<circle cx="525.7" cy="441.97" r="3.65" fill="#b0b0b0" stroke="#6a6a6a" stroke-width="1.1"/>
<circle cx="536.5" cy="441.97" r="3.15" fill="#b0b0b0" stroke="#6a6a6a" stroke-width="1.1"/>
<line x1="512.1" y1="451.49" x2="517.7" y2="457.09" stroke="#5e5e5e" stroke-width="1"/>
<line x1="512.1" y1="457.09" x2="517.7" y2="451.49" stroke="#5e5e5e" stroke-width="1"/>
<circle cx="525.7" cy="454.29" r="3.4" fill="#b0b0b0" stroke="#6a6a6a" stroke-width="1.1"/>
<circle cx="536.5" cy="454.29" r="4.15" fill="#b0b0b0" stroke="#6a6a6a" stroke-width="1.1"/>
<rect x="509.5" y="177.2" width="32.4" height="283.25" fill="none" stroke="#3a3a3a" stroke-width="1.3" rx="1.2"/>
<text transform="translate(287.8 99.9) rotate(-90)" font-size="10.2" font-weight="bold" text-anchor="middle" fill="#000" stroke="#000" stroke-width="0.22">PCa/NC classifier</text>
<text transform="translate(287.2 318.8) rotate(-90)" font-size="10.2" font-weight="bold" text-anchor="middle" fill="#000" stroke="#000" stroke-width="0.22">cISUP&gt;1/cISUP=1 classifier</text>
<text transform="translate(363.4 466.6) rotate(-90)" font-size="10" text-anchor="end" fill="#1e1e1e" stroke="#1e1e1e" stroke-width="0.22">0.0</text>
<text transform="translate(372.1 466.6) rotate(-90)" font-size="10" text-anchor="end" fill="#1e1e1e" stroke="#1e1e1e" stroke-width="0.22">0.2</text>
<text transform="translate(380.6 466.6) rotate(-90)" font-size="10" text-anchor="end" fill="#1e1e1e" stroke="#1e1e1e" stroke-width="0.22">0.4</text>
<text transform="translate(389 466.6) rotate(-90)" font-size="10" text-anchor="end" fill="#1e1e1e" stroke="#1e1e1e" stroke-width="0.22">0.6</text>
<text transform="translate(397.4 466.6) rotate(-90)" font-size="10" text-anchor="end" fill="#1e1e1e" stroke="#1e1e1e" stroke-width="0.22">0.8</text>
<text transform="translate(405.9 466.6) rotate(-90)" font-size="10" text-anchor="end" fill="#1e1e1e" stroke="#1e1e1e" stroke-width="0.22">1.0</text>
<text transform="translate(427.27 464.6) rotate(-90)" font-size="10.3" text-anchor="end" fill="#1e1e1e" stroke="#1e1e1e" stroke-width="0.22">uSP</text>
<text transform="translate(439.4 464.6) rotate(-90)" font-size="10.3" text-anchor="end" fill="#1e1e1e" stroke="#1e1e1e" stroke-width="0.22">uEV-P20</text>
<text transform="translate(451.53 464.6) rotate(-90)" font-size="10.3" text-anchor="end" fill="#1e1e1e" stroke="#1e1e1e" stroke-width="0.22">uEV-P150</text>
<text transform="translate(473.68 464.6) rotate(-90)" font-size="10.3" text-anchor="end" fill="#1e1e1e" stroke="#1e1e1e" stroke-width="0.22">uSP</text>
<text transform="translate(485.65 464.6) rotate(-90)" font-size="10.3" text-anchor="end" fill="#1e1e1e" stroke="#1e1e1e" stroke-width="0.22">uEV-P20</text>
<text transform="translate(497.62 464.6) rotate(-90)" font-size="10.3" text-anchor="end" fill="#1e1e1e" stroke="#1e1e1e" stroke-width="0.22">uEV-P150</text>
<text transform="translate(519.3 464.6) rotate(-90)" font-size="10.3" text-anchor="end" fill="#1e1e1e" stroke="#1e1e1e" stroke-width="0.22">uSP</text>
<text transform="translate(530.1 464.6) rotate(-90)" font-size="10.3" text-anchor="end" fill="#1e1e1e" stroke="#1e1e1e" stroke-width="0.22">uEV-P20</text>
<text transform="translate(540.9 464.6) rotate(-90)" font-size="10.3" text-anchor="end" fill="#1e1e1e" stroke="#1e1e1e" stroke-width="0.22">uEV-P150</text>
<text x="379.3" y="527.6" font-size="10.1" font-weight="bold" text-anchor="middle" fill="#000" stroke="#000" stroke-width="0.22">Univariate</text>
<text x="379.3" y="538.2" font-size="10.1" font-weight="bold" text-anchor="middle" fill="#000" stroke="#000" stroke-width="0.22">AUC</text>
<text x="434.8" y="532.6" font-size="10.1" font-weight="bold" text-anchor="middle" fill="#000" stroke="#000" stroke-width="0.22">PCa/NC</text>
<text x="481.6" y="527.6" font-size="10.1" font-weight="bold" text-anchor="middle" fill="#000" stroke="#000" stroke-width="0.22">cISUP&gt;1/</text>
<text x="481.4" y="538.2" font-size="10.1" font-weight="bold" text-anchor="middle" fill="#000" stroke="#000" stroke-width="0.22">cISUP=1</text>
<text x="525.9" y="527.6" font-size="10.1" font-weight="bold" text-anchor="middle" fill="#000" stroke="#000" stroke-width="0.22">Stability</text>
<text x="526.3" y="538.2" font-size="10.1" font-weight="bold" text-anchor="middle" fill="#000" stroke="#000" stroke-width="0.22">(ICC)</text>
<rect x="551.7" y="143.7" width="114.4" height="243.7" fill="#fff" stroke="#777" stroke-width="1"/>
<text x="556.8" y="163.9" font-size="10.1" font-weight="bold" fill="#000">log<tspan font-size="7" dy="2.2">2</tspan><tspan dy="-2.2">FC</tspan></text>
<circle cx="562.5" cy="177.5" r="5" fill="#1A73FF" stroke="#2a1a1a" stroke-width="0.5"/>
<text x="590.8" y="181.2" font-size="10.1" text-anchor="end" fill="#1e1e1e" stroke="#1e1e1e" stroke-width="0.22">&lt; -3</text>
<circle cx="562.5" cy="191.2" r="3.6" fill="#1A73FF" stroke="#2a1a1a" stroke-width="0.5"/>
<text x="590.8" y="194.9" font-size="10.1" text-anchor="end" fill="#1e1e1e" stroke="#1e1e1e" stroke-width="0.22">-2</text>
<circle cx="562.5" cy="205.1" r="1.8" fill="#1A73FF" stroke="#2a1a1a" stroke-width="0.5"/>
<text x="590.8" y="208.8" font-size="10.1" text-anchor="end" fill="#1e1e1e" stroke="#1e1e1e" stroke-width="0.22">-1</text>
<text x="590.8" y="222.7" font-size="10.1" text-anchor="end" fill="#1e1e1e" stroke="#1e1e1e" stroke-width="0.22">0</text>
<circle cx="562.5" cy="233.1" r="2" fill="#C80000" stroke="#2a1a1a" stroke-width="0.5"/>
<text x="590.8" y="236.8" font-size="10.1" text-anchor="end" fill="#1e1e1e" stroke="#1e1e1e" stroke-width="0.22">1</text>
<circle cx="562.5" cy="247" r="3.6" fill="#C80000" stroke="#2a1a1a" stroke-width="0.5"/>
<text x="590.8" y="250.7" font-size="10.1" text-anchor="end" fill="#1e1e1e" stroke="#1e1e1e" stroke-width="0.22">2</text>
<circle cx="562.5" cy="260.8" r="5" fill="#C80000" stroke="#2a1a1a" stroke-width="0.5"/>
<text x="590.8" y="264.5" font-size="10.1" text-anchor="end" fill="#1e1e1e" stroke="#1e1e1e" stroke-width="0.22">&gt; 3</text>
<text x="604.3" y="162.8" font-size="10.1" font-weight="bold" fill="#000" stroke="#000" stroke-width="0.22">Signature</text>
<rect x="604.9" y="166.1" width="11.4" height="9" fill="#FFA500" stroke="#444" stroke-width="0.7"/>
<text x="618.2" y="174.3" font-size="10.1" fill="#1e1e1e" stroke="#1e1e1e" stroke-width="0.22">uSP</text>
<rect x="604.9" y="175.1" width="11.4" height="9" fill="#44AA99" stroke="#444" stroke-width="0.7"/>
<text x="618.2" y="183.3" font-size="10.1" fill="#1e1e1e" stroke="#1e1e1e" stroke-width="0.22">uEV-P20</text>
<rect x="604.9" y="184.1" width="11.4" height="9" fill="#EE1A85" stroke="#444" stroke-width="0.7"/>
<text x="618.2" y="192.3" font-size="10.1" fill="#1e1e1e" stroke="#1e1e1e" stroke-width="0.22">uEV-P150</text>
<text x="556.8" y="300.9" font-size="10.1" font-weight="bold" fill="#000" stroke="#000" stroke-width="0.22">ICC</text>
<circle cx="562.5" cy="317.1" r="5.25" fill="#b8b8b8" stroke="#727272" stroke-width="0.8"/>
<text x="590.8" y="320.8" font-size="10.1" text-anchor="end" fill="#1e1e1e" stroke="#1e1e1e" stroke-width="0.22">1</text>
<circle cx="562.5" cy="331.3" r="4.25" fill="#b8b8b8" stroke="#727272" stroke-width="0.8"/>
<text x="590.8" y="335" font-size="10.1" text-anchor="end" fill="#1e1e1e" stroke="#1e1e1e" stroke-width="0.22">0.8</text>
<circle cx="562.5" cy="345" r="3.25" fill="#b8b8b8" stroke="#727272" stroke-width="0.8"/>
<text x="590.8" y="348.7" font-size="10.1" text-anchor="end" fill="#1e1e1e" stroke="#1e1e1e" stroke-width="0.22">0.6</text>
<circle cx="562.5" cy="358.9" r="2.25" fill="#b8b8b8" stroke="#727272" stroke-width="0.8"/>
<text x="590.8" y="362.6" font-size="10.1" text-anchor="end" fill="#1e1e1e" stroke="#1e1e1e" stroke-width="0.22">0.4</text>
<circle cx="562.5" cy="372.6" r="1.1" fill="#555" stroke="none" stroke-width="0.6"/>
<text x="590.8" y="376.3" font-size="10.1" text-anchor="end" fill="#1e1e1e" stroke="#1e1e1e" stroke-width="0.22">0.2</text>
<text x="604.3" y="300.9" font-size="10.1" font-weight="bold" fill="#000" stroke="#000" stroke-width="0.22">FDR</text>
<defs><linearGradient id="fdr" x1="0" y1="0" x2="0" y2="1"><stop offset="0" stop-color="#000"/><stop offset="1" stop-color="#bdbdbd"/></linearGradient></defs>
<rect x="604.9" y="309.8" width="10.2" height="49" fill="url(#fdr)" stroke="none" stroke-width="1"/>
<rect x="604.9" y="309.8" width="10.2" height="65.5" fill="none" stroke="#8a8a8a" stroke-width="0.9"/>
<line x1="615.1" y1="309.8" x2="617.8" y2="309.8" stroke="#777" stroke-width="0.9"/>
<line x1="615.1" y1="323" x2="617.8" y2="323" stroke="#777" stroke-width="0.9"/>
<line x1="615.1" y1="336" x2="617.8" y2="336" stroke="#777" stroke-width="0.9"/>
<line x1="615.1" y1="348.9" x2="617.8" y2="348.9" stroke="#777" stroke-width="0.9"/>
<line x1="615.1" y1="358.6" x2="617.8" y2="358.6" stroke="#777" stroke-width="0.9"/>
<line x1="615.1" y1="375.3" x2="617.8" y2="375.3" stroke="#777" stroke-width="0.9"/>
<text x="620" y="314.7" font-size="10.1" fill="#1e1e1e" stroke="#1e1e1e" stroke-width="0.22">&lt;10<tspan font-size="7" dy="-4.2">−5</tspan></text>
<text x="620.3" y="327.9" font-size="10.1" fill="#1e1e1e" stroke="#1e1e1e" stroke-width="0.22">10<tspan font-size="7" dy="-4.2">−4</tspan></text>
<text x="620.3" y="340.6" font-size="10.1" fill="#1e1e1e" stroke="#1e1e1e" stroke-width="0.22">10<tspan font-size="7" dy="-4.2">−3</tspan></text>
<text x="620.3" y="353.6" font-size="10.1" fill="#1e1e1e" stroke="#1e1e1e" stroke-width="0.22">10<tspan font-size="7" dy="-4.2">−2</tspan></text>
<text x="620" y="361.9" font-size="10.1" fill="#1e1e1e" stroke="#1e1e1e" stroke-width="0.22">0.05</text>
<text x="620.6" y="378.9" font-size="10.1" fill="#1e1e1e" stroke="#1e1e1e" stroke-width="0.22">1</text>
</svg>
</body></html>
